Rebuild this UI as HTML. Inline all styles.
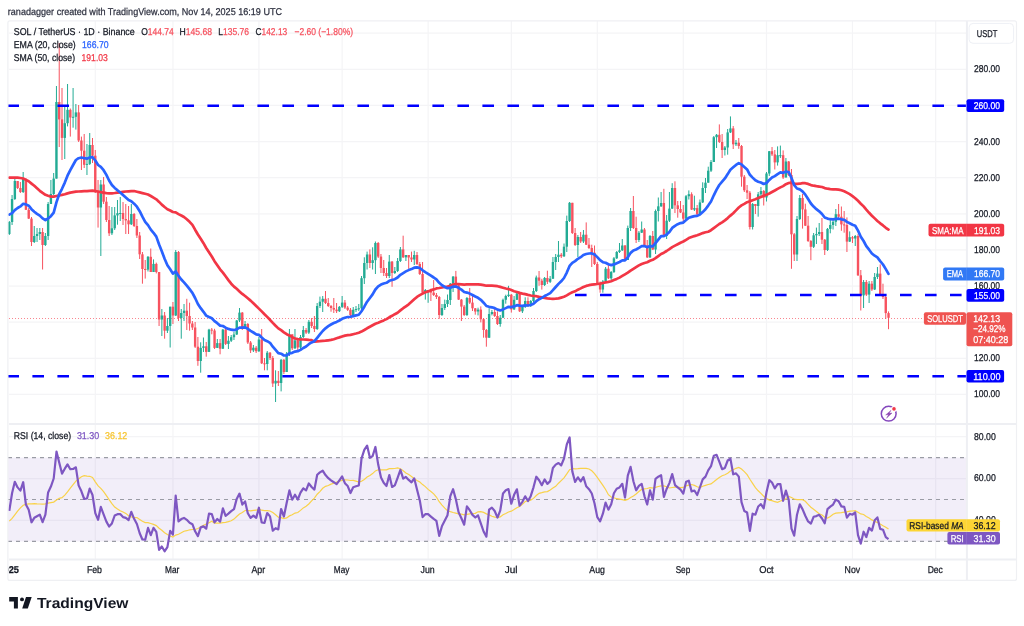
<!DOCTYPE html>
<html><head><meta charset="utf-8">
<style>
html,body{margin:0;padding:0;background:#fff;width:1024px;height:626px;overflow:hidden}
svg{display:block;filter:blur(0.3px)}
text{font-family:"Liberation Sans",sans-serif;text-rendering:geometricPrecision}
</style></head><body>
<svg width="1024" height="626" viewBox="0 0 1024 626">
<defs>
<clipPath id="cpt"><rect x="8.4" y="555" width="100" height="30"/></clipPath>
<clipPath id="cp"><rect x="8" y="21" width="958.5" height="538"/></clipPath>
</defs>
<rect x="0" y="0" width="1024" height="626" fill="#fff"/>
<text x="7.8" y="15" font-size="9.9" fill="#2f3241" textLength="274.2" lengthAdjust="spacingAndGlyphs" stroke="#2f3241" stroke-width="0.25">ranadagger created with TradingView.com, Nov 14, 2025 16:19 UTC</text>
<g clip-path="url(#cp)">
<g stroke="#f4f4f6" stroke-width="1.2">
<line x1="95.28" y1="21" x2="95.28" y2="559"/>
<line x1="172.94" y1="21" x2="172.94" y2="559"/>
<line x1="258.92" y1="21" x2="258.92" y2="559"/>
<line x1="342.13" y1="21" x2="342.13" y2="559"/>
<line x1="428.11" y1="21" x2="428.11" y2="559"/>
<line x1="511.32" y1="21" x2="511.32" y2="559"/>
<line x1="597.30" y1="21" x2="597.30" y2="559"/>
<line x1="683.28" y1="21" x2="683.28" y2="559"/>
<line x1="766.49" y1="21" x2="766.49" y2="559"/>
<line x1="852.47" y1="21" x2="852.47" y2="559"/>
<line x1="935.68" y1="21" x2="935.68" y2="559"/>
<line x1="9" y1="394.40" x2="966" y2="394.40"/>
<line x1="9" y1="358.28" x2="966" y2="358.28"/>
<line x1="9" y1="322.16" x2="966" y2="322.16"/>
<line x1="9" y1="286.04" x2="966" y2="286.04"/>
<line x1="9" y1="249.92" x2="966" y2="249.92"/>
<line x1="9" y1="213.80" x2="966" y2="213.80"/>
<line x1="9" y1="177.68" x2="966" y2="177.68"/>
<line x1="9" y1="141.56" x2="966" y2="141.56"/>
<line x1="9" y1="105.44" x2="966" y2="105.44"/>
<line x1="9" y1="69.32" x2="966" y2="69.32"/>
<line x1="9" y1="33.20" x2="966" y2="33.20"/>
<line x1="9" y1="436.62" x2="966" y2="436.62"/>
<line x1="9" y1="478.54" x2="966" y2="478.54"/>
<line x1="9" y1="520.46" x2="966" y2="520.46"/>
</g>
<rect x="8" y="457.6" width="958" height="83.8" fill="#7e57c2" fill-opacity="0.1"/>
<g stroke="#9a9ca5" stroke-width="1.2" stroke-dasharray="4 4">
<line x1="8" y1="457.58" x2="966" y2="457.58"/>
<line x1="8" y1="499.50" x2="966" y2="499.50"/>
<line x1="8" y1="541.42" x2="966" y2="541.42"/>
</g>
<line x1="9" y1="318.5" x2="966" y2="318.5" stroke="#f7525f" stroke-opacity="0.7" stroke-width="1" stroke-dasharray="1 2"/>
<g>
<line x1="9.30" y1="221.0" x2="9.30" y2="235.0" stroke="#22ab94" stroke-width="1"/>
<rect x="8.10" y="222.0" width="2.4" height="12.0" fill="#22ab94"/>
<line x1="12.07" y1="195.0" x2="12.07" y2="225.0" stroke="#22ab94" stroke-width="1"/>
<rect x="10.87" y="199.0" width="2.4" height="23.0" fill="#22ab94"/>
<line x1="14.85" y1="179.0" x2="14.85" y2="200.0" stroke="#22ab94" stroke-width="1"/>
<rect x="13.65" y="181.0" width="2.4" height="18.0" fill="#22ab94"/>
<line x1="17.62" y1="181.0" x2="17.62" y2="189.0" stroke="#f7525f" stroke-width="1"/>
<rect x="16.42" y="181.0" width="2.4" height="7.0" fill="#f7525f"/>
<line x1="20.39" y1="182.0" x2="20.39" y2="193.0" stroke="#f7525f" stroke-width="1"/>
<rect x="19.19" y="188.0" width="2.4" height="4.0" fill="#f7525f"/>
<line x1="23.17" y1="172.0" x2="23.17" y2="193.0" stroke="#22ab94" stroke-width="1"/>
<rect x="21.97" y="179.0" width="2.4" height="13.0" fill="#22ab94"/>
<line x1="25.94" y1="178.0" x2="25.94" y2="210.0" stroke="#f7525f" stroke-width="1"/>
<rect x="24.74" y="179.0" width="2.4" height="30.8" fill="#f7525f"/>
<line x1="28.72" y1="208.0" x2="28.72" y2="219.0" stroke="#f7525f" stroke-width="1"/>
<rect x="27.52" y="209.8" width="2.4" height="8.8" fill="#f7525f"/>
<line x1="31.49" y1="217.0" x2="31.49" y2="246.0" stroke="#f7525f" stroke-width="1"/>
<rect x="30.29" y="218.6" width="2.4" height="23.4" fill="#f7525f"/>
<line x1="34.26" y1="226.0" x2="34.26" y2="243.0" stroke="#22ab94" stroke-width="1"/>
<rect x="33.06" y="236.0" width="2.4" height="6.0" fill="#22ab94"/>
<line x1="37.04" y1="228.0" x2="37.04" y2="242.0" stroke="#22ab94" stroke-width="1"/>
<rect x="35.84" y="234.0" width="2.4" height="2.0" fill="#22ab94"/>
<line x1="39.81" y1="228.0" x2="39.81" y2="240.0" stroke="#22ab94" stroke-width="1"/>
<rect x="38.61" y="232.0" width="2.4" height="2.0" fill="#22ab94"/>
<line x1="42.58" y1="228.0" x2="42.58" y2="269.5" stroke="#f7525f" stroke-width="1"/>
<rect x="41.38" y="232.0" width="2.4" height="13.0" fill="#f7525f"/>
<line x1="45.36" y1="233.0" x2="45.36" y2="246.0" stroke="#22ab94" stroke-width="1"/>
<rect x="44.16" y="236.0" width="2.4" height="9.0" fill="#22ab94"/>
<line x1="48.13" y1="202.0" x2="48.13" y2="240.0" stroke="#22ab94" stroke-width="1"/>
<rect x="46.93" y="204.0" width="2.4" height="32.0" fill="#22ab94"/>
<line x1="50.90" y1="180.0" x2="50.90" y2="204.0" stroke="#22ab94" stroke-width="1"/>
<rect x="49.70" y="194.0" width="2.4" height="10.0" fill="#22ab94"/>
<line x1="53.68" y1="173.0" x2="53.68" y2="195.0" stroke="#22ab94" stroke-width="1"/>
<rect x="52.48" y="178.6" width="2.4" height="15.4" fill="#22ab94"/>
<line x1="56.45" y1="86.0" x2="56.45" y2="178.6" stroke="#22ab94" stroke-width="1"/>
<rect x="55.25" y="102.0" width="2.4" height="76.6" fill="#22ab94"/>
<line x1="59.22" y1="43.0" x2="59.22" y2="147.0" stroke="#f7525f" stroke-width="1"/>
<rect x="58.02" y="102.0" width="2.4" height="17.4" fill="#f7525f"/>
<line x1="62.00" y1="88.0" x2="62.00" y2="160.0" stroke="#f7525f" stroke-width="1"/>
<rect x="60.80" y="119.4" width="2.4" height="18.5" fill="#f7525f"/>
<line x1="64.77" y1="106.6" x2="64.77" y2="159.0" stroke="#22ab94" stroke-width="1"/>
<rect x="63.57" y="123.2" width="2.4" height="14.7" fill="#22ab94"/>
<line x1="67.55" y1="84.0" x2="67.55" y2="126.4" stroke="#22ab94" stroke-width="1"/>
<rect x="66.35" y="109.8" width="2.4" height="13.4" fill="#22ab94"/>
<line x1="70.32" y1="108.5" x2="70.32" y2="136.6" stroke="#f7525f" stroke-width="1"/>
<rect x="69.12" y="109.8" width="2.4" height="7.7" fill="#f7525f"/>
<line x1="73.09" y1="88.0" x2="73.09" y2="127.7" stroke="#22ab94" stroke-width="1"/>
<rect x="71.89" y="116.8" width="2.4" height="1.0" fill="#22ab94"/>
<line x1="75.87" y1="104.0" x2="75.87" y2="129.6" stroke="#22ab94" stroke-width="1"/>
<rect x="74.67" y="112.4" width="2.4" height="4.4" fill="#22ab94"/>
<line x1="78.64" y1="105.0" x2="78.64" y2="142.0" stroke="#f7525f" stroke-width="1"/>
<rect x="77.44" y="112.4" width="2.4" height="28.1" fill="#f7525f"/>
<line x1="81.41" y1="136.6" x2="81.41" y2="170.0" stroke="#f7525f" stroke-width="1"/>
<rect x="80.21" y="140.5" width="2.4" height="10.2" fill="#f7525f"/>
<line x1="84.19" y1="134.0" x2="84.19" y2="168.0" stroke="#f7525f" stroke-width="1"/>
<rect x="82.99" y="150.7" width="2.4" height="14.1" fill="#f7525f"/>
<line x1="86.96" y1="144.0" x2="86.96" y2="175.0" stroke="#22ab94" stroke-width="1"/>
<rect x="85.76" y="163.9" width="2.4" height="1.0" fill="#22ab94"/>
<line x1="89.73" y1="133.0" x2="89.73" y2="165.0" stroke="#22ab94" stroke-width="1"/>
<rect x="88.53" y="145.0" width="2.4" height="18.9" fill="#22ab94"/>
<line x1="92.51" y1="138.0" x2="92.51" y2="163.0" stroke="#f7525f" stroke-width="1"/>
<rect x="91.31" y="145.0" width="2.4" height="10.7" fill="#f7525f"/>
<line x1="95.28" y1="150.0" x2="95.28" y2="193.0" stroke="#f7525f" stroke-width="1"/>
<rect x="94.08" y="155.7" width="2.4" height="36.0" fill="#f7525f"/>
<line x1="98.06" y1="180.0" x2="98.06" y2="227.6" stroke="#f7525f" stroke-width="1"/>
<rect x="96.86" y="191.7" width="2.4" height="15.8" fill="#f7525f"/>
<line x1="100.83" y1="180.0" x2="100.83" y2="256.0" stroke="#22ab94" stroke-width="1"/>
<rect x="99.63" y="184.5" width="2.4" height="23.0" fill="#22ab94"/>
<line x1="103.60" y1="177.0" x2="103.60" y2="204.0" stroke="#f7525f" stroke-width="1"/>
<rect x="102.40" y="184.5" width="2.4" height="17.2" fill="#f7525f"/>
<line x1="106.38" y1="197.0" x2="106.38" y2="222.0" stroke="#f7525f" stroke-width="1"/>
<rect x="105.18" y="201.7" width="2.4" height="18.3" fill="#f7525f"/>
<line x1="109.15" y1="206.0" x2="109.15" y2="236.0" stroke="#f7525f" stroke-width="1"/>
<rect x="107.95" y="220.0" width="2.4" height="13.3" fill="#f7525f"/>
<line x1="111.92" y1="207.0" x2="111.92" y2="235.0" stroke="#22ab94" stroke-width="1"/>
<rect x="110.72" y="228.3" width="2.4" height="5.0" fill="#22ab94"/>
<line x1="114.70" y1="207.0" x2="114.70" y2="230.0" stroke="#22ab94" stroke-width="1"/>
<rect x="113.50" y="215.4" width="2.4" height="12.9" fill="#22ab94"/>
<line x1="117.47" y1="200.0" x2="117.47" y2="224.7" stroke="#22ab94" stroke-width="1"/>
<rect x="116.27" y="213.2" width="2.4" height="2.2" fill="#22ab94"/>
<line x1="120.24" y1="197.0" x2="120.24" y2="221.0" stroke="#22ab94" stroke-width="1"/>
<rect x="119.04" y="213.0" width="2.4" height="1.0" fill="#22ab94"/>
<line x1="123.02" y1="202.0" x2="123.02" y2="225.0" stroke="#f7525f" stroke-width="1"/>
<rect x="121.82" y="213.0" width="2.4" height="6.0" fill="#f7525f"/>
<line x1="125.79" y1="204.0" x2="125.79" y2="234.0" stroke="#f7525f" stroke-width="1"/>
<rect x="124.59" y="219.0" width="2.4" height="1.4" fill="#f7525f"/>
<line x1="128.56" y1="206.0" x2="128.56" y2="234.0" stroke="#f7525f" stroke-width="1"/>
<rect x="127.36" y="220.4" width="2.4" height="3.9" fill="#f7525f"/>
<line x1="131.34" y1="204.0" x2="131.34" y2="225.0" stroke="#22ab94" stroke-width="1"/>
<rect x="130.14" y="214.0" width="2.4" height="10.3" fill="#22ab94"/>
<line x1="134.11" y1="213.0" x2="134.11" y2="227.0" stroke="#f7525f" stroke-width="1"/>
<rect x="132.91" y="214.0" width="2.4" height="12.0" fill="#f7525f"/>
<line x1="136.89" y1="219.0" x2="136.89" y2="238.0" stroke="#f7525f" stroke-width="1"/>
<rect x="135.69" y="226.0" width="2.4" height="9.5" fill="#f7525f"/>
<line x1="139.66" y1="232.0" x2="139.66" y2="259.0" stroke="#f7525f" stroke-width="1"/>
<rect x="138.46" y="235.5" width="2.4" height="18.8" fill="#f7525f"/>
<line x1="142.43" y1="252.0" x2="142.43" y2="283.7" stroke="#f7525f" stroke-width="1"/>
<rect x="141.23" y="254.3" width="2.4" height="14.7" fill="#f7525f"/>
<line x1="145.21" y1="260.0" x2="145.21" y2="278.6" stroke="#f7525f" stroke-width="1"/>
<rect x="144.01" y="269.0" width="2.4" height="1.0" fill="#f7525f"/>
<line x1="147.98" y1="256.0" x2="147.98" y2="271.5" stroke="#22ab94" stroke-width="1"/>
<rect x="146.78" y="256.8" width="2.4" height="12.8" fill="#22ab94"/>
<line x1="150.75" y1="248.5" x2="150.75" y2="272.0" stroke="#f7525f" stroke-width="1"/>
<rect x="149.55" y="256.8" width="2.4" height="15.2" fill="#f7525f"/>
<line x1="153.53" y1="259.4" x2="153.53" y2="272.0" stroke="#22ab94" stroke-width="1"/>
<rect x="152.33" y="263.9" width="2.4" height="8.1" fill="#22ab94"/>
<line x1="156.30" y1="262.6" x2="156.30" y2="273.4" stroke="#f7525f" stroke-width="1"/>
<rect x="155.10" y="263.9" width="2.4" height="8.1" fill="#f7525f"/>
<line x1="159.07" y1="272.0" x2="159.07" y2="326.0" stroke="#f7525f" stroke-width="1"/>
<rect x="157.87" y="272.0" width="2.4" height="47.5" fill="#f7525f"/>
<line x1="161.85" y1="309.0" x2="161.85" y2="336.0" stroke="#22ab94" stroke-width="1"/>
<rect x="160.65" y="315.5" width="2.4" height="4.0" fill="#22ab94"/>
<line x1="164.62" y1="312.0" x2="164.62" y2="338.7" stroke="#f7525f" stroke-width="1"/>
<rect x="163.42" y="315.5" width="2.4" height="15.2" fill="#f7525f"/>
<line x1="167.40" y1="318.0" x2="167.40" y2="333.0" stroke="#22ab94" stroke-width="1"/>
<rect x="166.20" y="326.0" width="2.4" height="4.7" fill="#22ab94"/>
<line x1="170.17" y1="306.7" x2="170.17" y2="347.5" stroke="#22ab94" stroke-width="1"/>
<rect x="168.97" y="306.7" width="2.4" height="19.3" fill="#22ab94"/>
<line x1="172.94" y1="302.0" x2="172.94" y2="324.0" stroke="#f7525f" stroke-width="1"/>
<rect x="171.74" y="306.7" width="2.4" height="8.8" fill="#f7525f"/>
<line x1="175.72" y1="250.0" x2="175.72" y2="316.0" stroke="#22ab94" stroke-width="1"/>
<rect x="174.52" y="252.0" width="2.4" height="63.5" fill="#22ab94"/>
<line x1="178.49" y1="251.0" x2="178.49" y2="321.0" stroke="#f7525f" stroke-width="1"/>
<rect x="177.29" y="252.0" width="2.4" height="66.0" fill="#f7525f"/>
<line x1="181.26" y1="309.0" x2="181.26" y2="338.7" stroke="#22ab94" stroke-width="1"/>
<rect x="180.06" y="313.0" width="2.4" height="5.0" fill="#22ab94"/>
<line x1="184.04" y1="304.0" x2="184.04" y2="321.0" stroke="#22ab94" stroke-width="1"/>
<rect x="182.84" y="310.7" width="2.4" height="2.3" fill="#22ab94"/>
<line x1="186.81" y1="298.8" x2="186.81" y2="330.0" stroke="#f7525f" stroke-width="1"/>
<rect x="185.61" y="310.7" width="2.4" height="5.3" fill="#f7525f"/>
<line x1="189.58" y1="302.7" x2="189.58" y2="330.7" stroke="#f7525f" stroke-width="1"/>
<rect x="188.38" y="316.0" width="2.4" height="7.5" fill="#f7525f"/>
<line x1="192.36" y1="321.0" x2="192.36" y2="330.0" stroke="#f7525f" stroke-width="1"/>
<rect x="191.16" y="323.5" width="2.4" height="4.0" fill="#f7525f"/>
<line x1="195.13" y1="322.0" x2="195.13" y2="348.0" stroke="#f7525f" stroke-width="1"/>
<rect x="193.93" y="327.5" width="2.4" height="19.2" fill="#f7525f"/>
<line x1="197.90" y1="337.0" x2="197.90" y2="365.8" stroke="#f7525f" stroke-width="1"/>
<rect x="196.70" y="346.7" width="2.4" height="14.3" fill="#f7525f"/>
<line x1="200.68" y1="342.3" x2="200.68" y2="372.7" stroke="#22ab94" stroke-width="1"/>
<rect x="199.48" y="347.9" width="2.4" height="13.1" fill="#22ab94"/>
<line x1="203.45" y1="337.5" x2="203.45" y2="352.0" stroke="#22ab94" stroke-width="1"/>
<rect x="202.25" y="346.3" width="2.4" height="1.6" fill="#22ab94"/>
<line x1="206.23" y1="342.0" x2="206.23" y2="356.7" stroke="#f7525f" stroke-width="1"/>
<rect x="205.03" y="346.3" width="2.4" height="5.6" fill="#f7525f"/>
<line x1="209.00" y1="328.8" x2="209.00" y2="352.0" stroke="#22ab94" stroke-width="1"/>
<rect x="207.80" y="329.6" width="2.4" height="22.3" fill="#22ab94"/>
<line x1="211.77" y1="328.0" x2="211.77" y2="334.3" stroke="#f7525f" stroke-width="1"/>
<rect x="210.57" y="329.6" width="2.4" height="1.0" fill="#f7525f"/>
<line x1="214.55" y1="328.8" x2="214.55" y2="349.0" stroke="#f7525f" stroke-width="1"/>
<rect x="213.35" y="330.5" width="2.4" height="17.4" fill="#f7525f"/>
<line x1="217.32" y1="339.0" x2="217.32" y2="348.0" stroke="#22ab94" stroke-width="1"/>
<rect x="216.12" y="343.1" width="2.4" height="4.8" fill="#22ab94"/>
<line x1="220.09" y1="339.0" x2="220.09" y2="354.3" stroke="#f7525f" stroke-width="1"/>
<rect x="218.89" y="343.1" width="2.4" height="5.6" fill="#f7525f"/>
<line x1="222.87" y1="329.0" x2="222.87" y2="349.0" stroke="#22ab94" stroke-width="1"/>
<rect x="221.67" y="329.6" width="2.4" height="19.1" fill="#22ab94"/>
<line x1="225.64" y1="329.0" x2="225.64" y2="345.0" stroke="#f7525f" stroke-width="1"/>
<rect x="224.44" y="329.6" width="2.4" height="14.3" fill="#f7525f"/>
<line x1="228.41" y1="336.0" x2="228.41" y2="349.0" stroke="#22ab94" stroke-width="1"/>
<rect x="227.21" y="340.7" width="2.4" height="3.2" fill="#22ab94"/>
<line x1="231.19" y1="335.0" x2="231.19" y2="342.0" stroke="#22ab94" stroke-width="1"/>
<rect x="229.99" y="337.2" width="2.4" height="3.5" fill="#22ab94"/>
<line x1="233.96" y1="332.0" x2="233.96" y2="340.0" stroke="#22ab94" stroke-width="1"/>
<rect x="232.76" y="334.5" width="2.4" height="2.7" fill="#22ab94"/>
<line x1="236.74" y1="320.0" x2="236.74" y2="335.0" stroke="#22ab94" stroke-width="1"/>
<rect x="235.54" y="320.5" width="2.4" height="14.0" fill="#22ab94"/>
<line x1="239.51" y1="308.0" x2="239.51" y2="322.0" stroke="#22ab94" stroke-width="1"/>
<rect x="238.31" y="312.6" width="2.4" height="7.9" fill="#22ab94"/>
<line x1="242.28" y1="312.0" x2="242.28" y2="330.0" stroke="#f7525f" stroke-width="1"/>
<rect x="241.08" y="312.6" width="2.4" height="15.8" fill="#f7525f"/>
<line x1="245.06" y1="321.0" x2="245.06" y2="329.0" stroke="#22ab94" stroke-width="1"/>
<rect x="243.86" y="324.0" width="2.4" height="4.4" fill="#22ab94"/>
<line x1="247.83" y1="323.0" x2="247.83" y2="344.0" stroke="#f7525f" stroke-width="1"/>
<rect x="246.63" y="324.0" width="2.4" height="18.5" fill="#f7525f"/>
<line x1="250.60" y1="341.0" x2="250.60" y2="353.0" stroke="#f7525f" stroke-width="1"/>
<rect x="249.40" y="342.5" width="2.4" height="7.9" fill="#f7525f"/>
<line x1="253.38" y1="345.0" x2="253.38" y2="352.0" stroke="#22ab94" stroke-width="1"/>
<rect x="252.18" y="347.7" width="2.4" height="2.7" fill="#22ab94"/>
<line x1="256.15" y1="346.0" x2="256.15" y2="353.0" stroke="#f7525f" stroke-width="1"/>
<rect x="254.95" y="347.7" width="2.4" height="3.5" fill="#f7525f"/>
<line x1="258.92" y1="337.0" x2="258.92" y2="352.0" stroke="#22ab94" stroke-width="1"/>
<rect x="257.72" y="339.5" width="2.4" height="11.7" fill="#22ab94"/>
<line x1="261.70" y1="329.0" x2="261.70" y2="364.0" stroke="#f7525f" stroke-width="1"/>
<rect x="260.50" y="339.5" width="2.4" height="23.8" fill="#f7525f"/>
<line x1="264.47" y1="358.0" x2="264.47" y2="370.3" stroke="#f7525f" stroke-width="1"/>
<rect x="263.27" y="363.3" width="2.4" height="1.0" fill="#f7525f"/>
<line x1="267.24" y1="351.0" x2="267.24" y2="370.3" stroke="#22ab94" stroke-width="1"/>
<rect x="266.04" y="352.7" width="2.4" height="11.3" fill="#22ab94"/>
<line x1="270.02" y1="352.0" x2="270.02" y2="360.0" stroke="#f7525f" stroke-width="1"/>
<rect x="268.82" y="352.7" width="2.4" height="5.3" fill="#f7525f"/>
<line x1="272.79" y1="356.0" x2="272.79" y2="387.0" stroke="#f7525f" stroke-width="1"/>
<rect x="271.59" y="358.0" width="2.4" height="25.5" fill="#f7525f"/>
<line x1="275.57" y1="370.3" x2="275.57" y2="402.0" stroke="#22ab94" stroke-width="1"/>
<rect x="274.37" y="380.8" width="2.4" height="2.7" fill="#22ab94"/>
<line x1="278.34" y1="371.0" x2="278.34" y2="386.0" stroke="#f7525f" stroke-width="1"/>
<rect x="277.14" y="380.8" width="2.4" height="2.2" fill="#f7525f"/>
<line x1="281.11" y1="359.0" x2="281.11" y2="391.4" stroke="#22ab94" stroke-width="1"/>
<rect x="279.91" y="359.8" width="2.4" height="23.2" fill="#22ab94"/>
<line x1="283.89" y1="359.0" x2="283.89" y2="374.0" stroke="#f7525f" stroke-width="1"/>
<rect x="282.69" y="359.8" width="2.4" height="12.2" fill="#f7525f"/>
<line x1="286.66" y1="352.0" x2="286.66" y2="372.0" stroke="#22ab94" stroke-width="1"/>
<rect x="285.46" y="353.6" width="2.4" height="18.4" fill="#22ab94"/>
<line x1="289.43" y1="329.0" x2="289.43" y2="356.0" stroke="#22ab94" stroke-width="1"/>
<rect x="288.23" y="334.3" width="2.4" height="19.3" fill="#22ab94"/>
<line x1="292.21" y1="334.3" x2="292.21" y2="350.0" stroke="#f7525f" stroke-width="1"/>
<rect x="291.01" y="334.3" width="2.4" height="14.0" fill="#f7525f"/>
<line x1="294.98" y1="329.0" x2="294.98" y2="349.0" stroke="#22ab94" stroke-width="1"/>
<rect x="293.78" y="340.4" width="2.4" height="7.9" fill="#22ab94"/>
<line x1="297.75" y1="339.0" x2="297.75" y2="350.0" stroke="#f7525f" stroke-width="1"/>
<rect x="296.55" y="340.4" width="2.4" height="7.1" fill="#f7525f"/>
<line x1="300.53" y1="335.0" x2="300.53" y2="351.0" stroke="#22ab94" stroke-width="1"/>
<rect x="299.33" y="337.0" width="2.4" height="10.5" fill="#22ab94"/>
<line x1="303.30" y1="326.0" x2="303.30" y2="338.0" stroke="#22ab94" stroke-width="1"/>
<rect x="302.10" y="330.0" width="2.4" height="7.0" fill="#22ab94"/>
<line x1="306.08" y1="328.0" x2="306.08" y2="334.0" stroke="#f7525f" stroke-width="1"/>
<rect x="304.88" y="330.0" width="2.4" height="2.6" fill="#f7525f"/>
<line x1="308.85" y1="320.0" x2="308.85" y2="334.0" stroke="#22ab94" stroke-width="1"/>
<rect x="307.65" y="321.8" width="2.4" height="10.8" fill="#22ab94"/>
<line x1="311.62" y1="318.0" x2="311.62" y2="328.0" stroke="#f7525f" stroke-width="1"/>
<rect x="310.42" y="321.8" width="2.4" height="4.2" fill="#f7525f"/>
<line x1="314.40" y1="316.0" x2="314.40" y2="332.0" stroke="#f7525f" stroke-width="1"/>
<rect x="313.20" y="326.0" width="2.4" height="3.0" fill="#f7525f"/>
<line x1="317.17" y1="303.0" x2="317.17" y2="330.0" stroke="#22ab94" stroke-width="1"/>
<rect x="315.97" y="306.0" width="2.4" height="23.0" fill="#22ab94"/>
<line x1="319.94" y1="296.6" x2="319.94" y2="308.0" stroke="#22ab94" stroke-width="1"/>
<rect x="318.74" y="301.7" width="2.4" height="4.3" fill="#22ab94"/>
<line x1="322.72" y1="296.0" x2="322.72" y2="312.0" stroke="#22ab94" stroke-width="1"/>
<rect x="321.52" y="298.8" width="2.4" height="2.9" fill="#22ab94"/>
<line x1="325.49" y1="291.0" x2="325.49" y2="304.0" stroke="#f7525f" stroke-width="1"/>
<rect x="324.29" y="298.8" width="2.4" height="4.2" fill="#f7525f"/>
<line x1="328.26" y1="298.0" x2="328.26" y2="307.0" stroke="#f7525f" stroke-width="1"/>
<rect x="327.06" y="303.0" width="2.4" height="3.0" fill="#f7525f"/>
<line x1="331.04" y1="305.0" x2="331.04" y2="311.7" stroke="#f7525f" stroke-width="1"/>
<rect x="329.84" y="306.0" width="2.4" height="2.0" fill="#f7525f"/>
<line x1="333.81" y1="298.0" x2="333.81" y2="313.0" stroke="#f7525f" stroke-width="1"/>
<rect x="332.61" y="308.0" width="2.4" height="1.6" fill="#f7525f"/>
<line x1="336.58" y1="303.0" x2="336.58" y2="313.0" stroke="#f7525f" stroke-width="1"/>
<rect x="335.38" y="309.6" width="2.4" height="1.6" fill="#f7525f"/>
<line x1="339.36" y1="306.0" x2="339.36" y2="312.0" stroke="#22ab94" stroke-width="1"/>
<rect x="338.16" y="306.9" width="2.4" height="4.3" fill="#22ab94"/>
<line x1="342.13" y1="296.0" x2="342.13" y2="308.0" stroke="#22ab94" stroke-width="1"/>
<rect x="340.93" y="302.6" width="2.4" height="4.3" fill="#22ab94"/>
<line x1="344.91" y1="300.0" x2="344.91" y2="309.0" stroke="#f7525f" stroke-width="1"/>
<rect x="343.71" y="302.6" width="2.4" height="5.0" fill="#f7525f"/>
<line x1="347.68" y1="306.0" x2="347.68" y2="311.0" stroke="#f7525f" stroke-width="1"/>
<rect x="346.48" y="307.6" width="2.4" height="2.2" fill="#f7525f"/>
<line x1="350.45" y1="308.0" x2="350.45" y2="316.0" stroke="#f7525f" stroke-width="1"/>
<rect x="349.25" y="309.8" width="2.4" height="5.2" fill="#f7525f"/>
<line x1="353.23" y1="307.0" x2="353.23" y2="316.0" stroke="#22ab94" stroke-width="1"/>
<rect x="352.03" y="309.8" width="2.4" height="5.2" fill="#22ab94"/>
<line x1="356.00" y1="306.0" x2="356.00" y2="312.0" stroke="#22ab94" stroke-width="1"/>
<rect x="354.80" y="309.0" width="2.4" height="1.0" fill="#22ab94"/>
<line x1="358.77" y1="304.0" x2="358.77" y2="311.0" stroke="#22ab94" stroke-width="1"/>
<rect x="357.57" y="308.3" width="2.4" height="1.0" fill="#22ab94"/>
<line x1="361.55" y1="276.0" x2="361.55" y2="310.0" stroke="#22ab94" stroke-width="1"/>
<rect x="360.35" y="278.2" width="2.4" height="30.1" fill="#22ab94"/>
<line x1="364.32" y1="257.3" x2="364.32" y2="284.0" stroke="#22ab94" stroke-width="1"/>
<rect x="363.12" y="263.0" width="2.4" height="15.2" fill="#22ab94"/>
<line x1="367.09" y1="251.6" x2="367.09" y2="269.5" stroke="#22ab94" stroke-width="1"/>
<rect x="365.89" y="254.5" width="2.4" height="8.5" fill="#22ab94"/>
<line x1="369.87" y1="249.4" x2="369.87" y2="268.0" stroke="#f7525f" stroke-width="1"/>
<rect x="368.67" y="254.5" width="2.4" height="8.5" fill="#f7525f"/>
<line x1="372.64" y1="247.3" x2="372.64" y2="269.5" stroke="#22ab94" stroke-width="1"/>
<rect x="371.44" y="260.2" width="2.4" height="2.8" fill="#22ab94"/>
<line x1="375.42" y1="241.5" x2="375.42" y2="274.0" stroke="#22ab94" stroke-width="1"/>
<rect x="374.22" y="243.0" width="2.4" height="17.2" fill="#22ab94"/>
<line x1="378.19" y1="242.0" x2="378.19" y2="258.0" stroke="#f7525f" stroke-width="1"/>
<rect x="376.99" y="243.0" width="2.4" height="13.6" fill="#f7525f"/>
<line x1="380.96" y1="254.0" x2="380.96" y2="273.0" stroke="#f7525f" stroke-width="1"/>
<rect x="379.76" y="256.6" width="2.4" height="11.4" fill="#f7525f"/>
<line x1="383.74" y1="260.0" x2="383.74" y2="276.0" stroke="#f7525f" stroke-width="1"/>
<rect x="382.54" y="268.0" width="2.4" height="5.0" fill="#f7525f"/>
<line x1="386.51" y1="268.0" x2="386.51" y2="278.0" stroke="#f7525f" stroke-width="1"/>
<rect x="385.31" y="273.0" width="2.4" height="3.0" fill="#f7525f"/>
<line x1="389.28" y1="255.0" x2="389.28" y2="278.0" stroke="#22ab94" stroke-width="1"/>
<rect x="388.08" y="261.6" width="2.4" height="14.4" fill="#22ab94"/>
<line x1="392.06" y1="261.0" x2="392.06" y2="286.8" stroke="#f7525f" stroke-width="1"/>
<rect x="390.86" y="261.6" width="2.4" height="11.4" fill="#f7525f"/>
<line x1="394.83" y1="267.0" x2="394.83" y2="274.0" stroke="#22ab94" stroke-width="1"/>
<rect x="393.63" y="271.0" width="2.4" height="2.0" fill="#22ab94"/>
<line x1="397.60" y1="258.0" x2="397.60" y2="272.0" stroke="#22ab94" stroke-width="1"/>
<rect x="396.40" y="261.0" width="2.4" height="10.0" fill="#22ab94"/>
<line x1="400.38" y1="247.0" x2="400.38" y2="262.0" stroke="#22ab94" stroke-width="1"/>
<rect x="399.18" y="249.4" width="2.4" height="11.6" fill="#22ab94"/>
<line x1="403.15" y1="235.7" x2="403.15" y2="258.0" stroke="#f7525f" stroke-width="1"/>
<rect x="401.95" y="249.4" width="2.4" height="7.9" fill="#f7525f"/>
<line x1="405.92" y1="255.0" x2="405.92" y2="261.0" stroke="#22ab94" stroke-width="1"/>
<rect x="404.72" y="255.0" width="2.4" height="2.3" fill="#22ab94"/>
<line x1="408.70" y1="255.0" x2="408.70" y2="268.8" stroke="#f7525f" stroke-width="1"/>
<rect x="407.50" y="255.0" width="2.4" height="2.5" fill="#f7525f"/>
<line x1="411.47" y1="251.6" x2="411.47" y2="262.0" stroke="#f7525f" stroke-width="1"/>
<rect x="410.27" y="257.5" width="2.4" height="2.0" fill="#f7525f"/>
<line x1="414.25" y1="250.8" x2="414.25" y2="265.0" stroke="#22ab94" stroke-width="1"/>
<rect x="413.05" y="255.0" width="2.4" height="4.5" fill="#22ab94"/>
<line x1="417.02" y1="252.0" x2="417.02" y2="265.0" stroke="#f7525f" stroke-width="1"/>
<rect x="415.82" y="255.0" width="2.4" height="9.0" fill="#f7525f"/>
<line x1="419.79" y1="262.0" x2="419.79" y2="275.0" stroke="#f7525f" stroke-width="1"/>
<rect x="418.59" y="264.0" width="2.4" height="10.0" fill="#f7525f"/>
<line x1="422.57" y1="262.0" x2="422.57" y2="294.0" stroke="#f7525f" stroke-width="1"/>
<rect x="421.37" y="274.0" width="2.4" height="18.6" fill="#f7525f"/>
<line x1="425.34" y1="289.0" x2="425.34" y2="299.6" stroke="#22ab94" stroke-width="1"/>
<rect x="424.14" y="290.0" width="2.4" height="2.6" fill="#22ab94"/>
<line x1="428.11" y1="290.0" x2="428.11" y2="302.8" stroke="#22ab94" stroke-width="1"/>
<rect x="426.91" y="290.0" width="2.4" height="1.0" fill="#22ab94"/>
<line x1="430.89" y1="288.7" x2="430.89" y2="301.0" stroke="#f7525f" stroke-width="1"/>
<rect x="429.69" y="290.0" width="2.4" height="2.6" fill="#f7525f"/>
<line x1="433.66" y1="280.0" x2="433.66" y2="296.0" stroke="#f7525f" stroke-width="1"/>
<rect x="432.46" y="292.6" width="2.4" height="2.4" fill="#f7525f"/>
<line x1="436.43" y1="293.0" x2="436.43" y2="299.0" stroke="#f7525f" stroke-width="1"/>
<rect x="435.23" y="295.0" width="2.4" height="2.0" fill="#f7525f"/>
<line x1="439.21" y1="296.0" x2="439.21" y2="318.8" stroke="#f7525f" stroke-width="1"/>
<rect x="438.01" y="297.0" width="2.4" height="18.0" fill="#f7525f"/>
<line x1="441.98" y1="304.0" x2="441.98" y2="316.0" stroke="#22ab94" stroke-width="1"/>
<rect x="440.78" y="308.0" width="2.4" height="7.0" fill="#22ab94"/>
<line x1="444.76" y1="299.6" x2="444.76" y2="310.0" stroke="#22ab94" stroke-width="1"/>
<rect x="443.56" y="304.0" width="2.4" height="4.0" fill="#22ab94"/>
<line x1="447.53" y1="294.5" x2="447.53" y2="307.0" stroke="#22ab94" stroke-width="1"/>
<rect x="446.33" y="300.0" width="2.4" height="4.0" fill="#22ab94"/>
<line x1="450.30" y1="283.0" x2="450.30" y2="305.0" stroke="#22ab94" stroke-width="1"/>
<rect x="449.10" y="283.6" width="2.4" height="16.4" fill="#22ab94"/>
<line x1="453.08" y1="276.0" x2="453.08" y2="292.0" stroke="#22ab94" stroke-width="1"/>
<rect x="451.88" y="276.6" width="2.4" height="7.0" fill="#22ab94"/>
<line x1="455.85" y1="270.9" x2="455.85" y2="287.0" stroke="#f7525f" stroke-width="1"/>
<rect x="454.65" y="276.6" width="2.4" height="9.0" fill="#f7525f"/>
<line x1="458.62" y1="283.0" x2="458.62" y2="300.0" stroke="#f7525f" stroke-width="1"/>
<rect x="457.42" y="285.6" width="2.4" height="14.0" fill="#f7525f"/>
<line x1="461.40" y1="299.0" x2="461.40" y2="321.0" stroke="#f7525f" stroke-width="1"/>
<rect x="460.20" y="299.6" width="2.4" height="7.0" fill="#f7525f"/>
<line x1="464.17" y1="305.0" x2="464.17" y2="316.0" stroke="#f7525f" stroke-width="1"/>
<rect x="462.97" y="306.6" width="2.4" height="8.4" fill="#f7525f"/>
<line x1="466.94" y1="297.0" x2="466.94" y2="316.0" stroke="#22ab94" stroke-width="1"/>
<rect x="465.74" y="298.0" width="2.4" height="17.0" fill="#22ab94"/>
<line x1="469.72" y1="288.0" x2="469.72" y2="304.0" stroke="#f7525f" stroke-width="1"/>
<rect x="468.52" y="298.0" width="2.4" height="4.6" fill="#f7525f"/>
<line x1="472.49" y1="295.0" x2="472.49" y2="311.0" stroke="#f7525f" stroke-width="1"/>
<rect x="471.29" y="302.6" width="2.4" height="5.7" fill="#f7525f"/>
<line x1="475.26" y1="308.0" x2="475.26" y2="314.7" stroke="#f7525f" stroke-width="1"/>
<rect x="474.06" y="308.3" width="2.4" height="3.2" fill="#f7525f"/>
<line x1="478.04" y1="307.7" x2="478.04" y2="315.4" stroke="#22ab94" stroke-width="1"/>
<rect x="476.84" y="309.6" width="2.4" height="1.9" fill="#22ab94"/>
<line x1="480.81" y1="306.4" x2="480.81" y2="322.4" stroke="#f7525f" stroke-width="1"/>
<rect x="479.61" y="309.6" width="2.4" height="9.6" fill="#f7525f"/>
<line x1="483.59" y1="318.0" x2="483.59" y2="337.7" stroke="#f7525f" stroke-width="1"/>
<rect x="482.39" y="319.2" width="2.4" height="10.8" fill="#f7525f"/>
<line x1="486.36" y1="329.0" x2="486.36" y2="346.7" stroke="#f7525f" stroke-width="1"/>
<rect x="485.16" y="330.0" width="2.4" height="7.7" fill="#f7525f"/>
<line x1="489.13" y1="308.3" x2="489.13" y2="338.0" stroke="#22ab94" stroke-width="1"/>
<rect x="487.93" y="314.0" width="2.4" height="23.7" fill="#22ab94"/>
<line x1="491.91" y1="310.0" x2="491.91" y2="315.4" stroke="#22ab94" stroke-width="1"/>
<rect x="490.71" y="312.0" width="2.4" height="2.0" fill="#22ab94"/>
<line x1="494.68" y1="307.7" x2="494.68" y2="317.0" stroke="#f7525f" stroke-width="1"/>
<rect x="493.48" y="312.0" width="2.4" height="4.0" fill="#f7525f"/>
<line x1="497.45" y1="311.3" x2="497.45" y2="325.0" stroke="#f7525f" stroke-width="1"/>
<rect x="496.25" y="316.0" width="2.4" height="8.0" fill="#f7525f"/>
<line x1="500.23" y1="315.0" x2="500.23" y2="326.7" stroke="#22ab94" stroke-width="1"/>
<rect x="499.03" y="317.7" width="2.4" height="6.3" fill="#22ab94"/>
<line x1="503.00" y1="298.6" x2="503.00" y2="318.0" stroke="#22ab94" stroke-width="1"/>
<rect x="501.80" y="299.8" width="2.4" height="17.9" fill="#22ab94"/>
<line x1="505.77" y1="294.7" x2="505.77" y2="303.7" stroke="#22ab94" stroke-width="1"/>
<rect x="504.57" y="296.0" width="2.4" height="3.8" fill="#22ab94"/>
<line x1="508.55" y1="285.8" x2="508.55" y2="297.0" stroke="#22ab94" stroke-width="1"/>
<rect x="507.35" y="294.7" width="2.4" height="1.3" fill="#22ab94"/>
<line x1="511.32" y1="294.0" x2="511.32" y2="312.6" stroke="#f7525f" stroke-width="1"/>
<rect x="510.12" y="294.7" width="2.4" height="14.7" fill="#f7525f"/>
<line x1="514.10" y1="296.0" x2="514.10" y2="310.0" stroke="#22ab94" stroke-width="1"/>
<rect x="512.90" y="299.8" width="2.4" height="9.6" fill="#22ab94"/>
<line x1="516.87" y1="292.0" x2="516.87" y2="300.0" stroke="#22ab94" stroke-width="1"/>
<rect x="515.67" y="293.5" width="2.4" height="6.3" fill="#22ab94"/>
<line x1="519.64" y1="293.5" x2="519.64" y2="312.0" stroke="#f7525f" stroke-width="1"/>
<rect x="518.44" y="293.5" width="2.4" height="17.8" fill="#f7525f"/>
<line x1="522.42" y1="306.0" x2="522.42" y2="313.0" stroke="#22ab94" stroke-width="1"/>
<rect x="521.22" y="307.0" width="2.4" height="4.3" fill="#22ab94"/>
<line x1="525.19" y1="297.3" x2="525.19" y2="308.0" stroke="#22ab94" stroke-width="1"/>
<rect x="523.99" y="301.0" width="2.4" height="6.0" fill="#22ab94"/>
<line x1="527.96" y1="297.3" x2="527.96" y2="307.0" stroke="#f7525f" stroke-width="1"/>
<rect x="526.76" y="301.0" width="2.4" height="5.0" fill="#f7525f"/>
<line x1="530.74" y1="300.0" x2="530.74" y2="307.0" stroke="#22ab94" stroke-width="1"/>
<rect x="529.54" y="301.0" width="2.4" height="5.0" fill="#22ab94"/>
<line x1="533.51" y1="288.0" x2="533.51" y2="302.0" stroke="#22ab94" stroke-width="1"/>
<rect x="532.31" y="291.0" width="2.4" height="10.0" fill="#22ab94"/>
<line x1="536.28" y1="275.6" x2="536.28" y2="292.0" stroke="#22ab94" stroke-width="1"/>
<rect x="535.08" y="277.5" width="2.4" height="13.5" fill="#22ab94"/>
<line x1="539.06" y1="271.0" x2="539.06" y2="285.8" stroke="#f7525f" stroke-width="1"/>
<rect x="537.86" y="277.5" width="2.4" height="3.2" fill="#f7525f"/>
<line x1="541.83" y1="278.8" x2="541.83" y2="289.6" stroke="#f7525f" stroke-width="1"/>
<rect x="540.63" y="280.7" width="2.4" height="4.3" fill="#f7525f"/>
<line x1="544.60" y1="277.0" x2="544.60" y2="286.0" stroke="#22ab94" stroke-width="1"/>
<rect x="543.40" y="278.0" width="2.4" height="7.0" fill="#22ab94"/>
<line x1="547.38" y1="270.7" x2="547.38" y2="284.0" stroke="#f7525f" stroke-width="1"/>
<rect x="546.18" y="278.0" width="2.4" height="3.8" fill="#f7525f"/>
<line x1="550.15" y1="276.0" x2="550.15" y2="283.0" stroke="#22ab94" stroke-width="1"/>
<rect x="548.95" y="278.7" width="2.4" height="3.1" fill="#22ab94"/>
<line x1="552.93" y1="257.0" x2="552.93" y2="279.0" stroke="#22ab94" stroke-width="1"/>
<rect x="551.73" y="262.0" width="2.4" height="16.7" fill="#22ab94"/>
<line x1="555.70" y1="254.0" x2="555.70" y2="270.0" stroke="#22ab94" stroke-width="1"/>
<rect x="554.50" y="257.0" width="2.4" height="5.0" fill="#22ab94"/>
<line x1="558.47" y1="241.0" x2="558.47" y2="262.0" stroke="#22ab94" stroke-width="1"/>
<rect x="557.27" y="254.7" width="2.4" height="2.3" fill="#22ab94"/>
<line x1="561.25" y1="253.0" x2="561.25" y2="258.0" stroke="#f7525f" stroke-width="1"/>
<rect x="560.05" y="254.7" width="2.4" height="1.6" fill="#f7525f"/>
<line x1="564.02" y1="243.5" x2="564.02" y2="257.0" stroke="#22ab94" stroke-width="1"/>
<rect x="562.82" y="246.7" width="2.4" height="9.6" fill="#22ab94"/>
<line x1="566.79" y1="215.6" x2="566.79" y2="252.0" stroke="#22ab94" stroke-width="1"/>
<rect x="565.59" y="221.0" width="2.4" height="25.7" fill="#22ab94"/>
<line x1="569.57" y1="202.0" x2="569.57" y2="222.0" stroke="#22ab94" stroke-width="1"/>
<rect x="568.37" y="202.8" width="2.4" height="18.2" fill="#22ab94"/>
<line x1="572.34" y1="202.8" x2="572.34" y2="234.0" stroke="#f7525f" stroke-width="1"/>
<rect x="571.14" y="202.8" width="2.4" height="30.2" fill="#f7525f"/>
<line x1="575.11" y1="228.0" x2="575.11" y2="246.0" stroke="#f7525f" stroke-width="1"/>
<rect x="573.91" y="233.0" width="2.4" height="12.0" fill="#f7525f"/>
<line x1="577.89" y1="235.0" x2="577.89" y2="257.0" stroke="#22ab94" stroke-width="1"/>
<rect x="576.69" y="237.0" width="2.4" height="8.0" fill="#22ab94"/>
<line x1="580.66" y1="232.0" x2="580.66" y2="243.0" stroke="#f7525f" stroke-width="1"/>
<rect x="579.46" y="237.0" width="2.4" height="4.5" fill="#f7525f"/>
<line x1="583.44" y1="230.0" x2="583.44" y2="243.0" stroke="#22ab94" stroke-width="1"/>
<rect x="582.24" y="234.7" width="2.4" height="6.8" fill="#22ab94"/>
<line x1="586.21" y1="222.4" x2="586.21" y2="245.0" stroke="#f7525f" stroke-width="1"/>
<rect x="585.01" y="234.7" width="2.4" height="10.0" fill="#f7525f"/>
<line x1="588.98" y1="238.0" x2="588.98" y2="249.0" stroke="#f7525f" stroke-width="1"/>
<rect x="587.78" y="244.7" width="2.4" height="3.3" fill="#f7525f"/>
<line x1="591.76" y1="244.7" x2="591.76" y2="267.0" stroke="#f7525f" stroke-width="1"/>
<rect x="590.56" y="248.0" width="2.4" height="4.7" fill="#f7525f"/>
<line x1="594.53" y1="245.5" x2="594.53" y2="265.0" stroke="#f7525f" stroke-width="1"/>
<rect x="593.33" y="252.7" width="2.4" height="11.3" fill="#f7525f"/>
<line x1="597.30" y1="262.0" x2="597.30" y2="284.0" stroke="#f7525f" stroke-width="1"/>
<rect x="596.10" y="264.0" width="2.4" height="19.0" fill="#f7525f"/>
<line x1="600.08" y1="281.5" x2="600.08" y2="292.7" stroke="#f7525f" stroke-width="1"/>
<rect x="598.88" y="283.0" width="2.4" height="6.5" fill="#f7525f"/>
<line x1="602.85" y1="280.0" x2="602.85" y2="292.7" stroke="#22ab94" stroke-width="1"/>
<rect x="601.65" y="281.5" width="2.4" height="8.0" fill="#22ab94"/>
<line x1="605.62" y1="267.0" x2="605.62" y2="282.0" stroke="#22ab94" stroke-width="1"/>
<rect x="604.42" y="268.7" width="2.4" height="12.8" fill="#22ab94"/>
<line x1="608.40" y1="264.0" x2="608.40" y2="279.0" stroke="#f7525f" stroke-width="1"/>
<rect x="607.20" y="268.7" width="2.4" height="9.6" fill="#f7525f"/>
<line x1="611.17" y1="271.0" x2="611.17" y2="280.0" stroke="#22ab94" stroke-width="1"/>
<rect x="609.97" y="272.0" width="2.4" height="6.3" fill="#22ab94"/>
<line x1="613.94" y1="257.0" x2="613.94" y2="273.0" stroke="#22ab94" stroke-width="1"/>
<rect x="612.74" y="258.3" width="2.4" height="13.7" fill="#22ab94"/>
<line x1="616.72" y1="251.0" x2="616.72" y2="259.0" stroke="#22ab94" stroke-width="1"/>
<rect x="615.52" y="252.0" width="2.4" height="6.3" fill="#22ab94"/>
<line x1="619.49" y1="243.0" x2="619.49" y2="253.0" stroke="#22ab94" stroke-width="1"/>
<rect x="618.29" y="250.3" width="2.4" height="1.7" fill="#22ab94"/>
<line x1="622.27" y1="239.0" x2="622.27" y2="251.0" stroke="#22ab94" stroke-width="1"/>
<rect x="621.07" y="245.5" width="2.4" height="4.8" fill="#22ab94"/>
<line x1="625.04" y1="245.0" x2="625.04" y2="261.0" stroke="#f7525f" stroke-width="1"/>
<rect x="623.84" y="245.5" width="2.4" height="14.5" fill="#f7525f"/>
<line x1="627.81" y1="225.6" x2="627.81" y2="260.0" stroke="#22ab94" stroke-width="1"/>
<rect x="626.61" y="228.0" width="2.4" height="32.0" fill="#22ab94"/>
<line x1="630.59" y1="208.0" x2="630.59" y2="231.0" stroke="#22ab94" stroke-width="1"/>
<rect x="629.39" y="211.0" width="2.4" height="17.0" fill="#22ab94"/>
<line x1="633.36" y1="196.0" x2="633.36" y2="229.0" stroke="#f7525f" stroke-width="1"/>
<rect x="632.16" y="211.0" width="2.4" height="17.0" fill="#f7525f"/>
<line x1="636.13" y1="216.7" x2="636.13" y2="243.0" stroke="#f7525f" stroke-width="1"/>
<rect x="634.93" y="228.0" width="2.4" height="12.0" fill="#f7525f"/>
<line x1="638.91" y1="231.0" x2="638.91" y2="242.0" stroke="#22ab94" stroke-width="1"/>
<rect x="637.71" y="232.7" width="2.4" height="7.3" fill="#22ab94"/>
<line x1="641.68" y1="221.5" x2="641.68" y2="233.0" stroke="#22ab94" stroke-width="1"/>
<rect x="640.48" y="229.5" width="2.4" height="3.2" fill="#22ab94"/>
<line x1="644.45" y1="228.0" x2="644.45" y2="246.0" stroke="#f7525f" stroke-width="1"/>
<rect x="643.25" y="229.5" width="2.4" height="16.0" fill="#f7525f"/>
<line x1="647.23" y1="240.0" x2="647.23" y2="258.0" stroke="#f7525f" stroke-width="1"/>
<rect x="646.03" y="245.5" width="2.4" height="11.9" fill="#f7525f"/>
<line x1="650.00" y1="235.0" x2="650.00" y2="258.0" stroke="#22ab94" stroke-width="1"/>
<rect x="648.80" y="236.0" width="2.4" height="21.4" fill="#22ab94"/>
<line x1="652.78" y1="231.0" x2="652.78" y2="250.0" stroke="#f7525f" stroke-width="1"/>
<rect x="651.58" y="236.0" width="2.4" height="13.5" fill="#f7525f"/>
<line x1="655.55" y1="209.5" x2="655.55" y2="254.0" stroke="#22ab94" stroke-width="1"/>
<rect x="654.35" y="211.0" width="2.4" height="38.5" fill="#22ab94"/>
<line x1="658.32" y1="197.5" x2="658.32" y2="221.5" stroke="#22ab94" stroke-width="1"/>
<rect x="657.12" y="206.3" width="2.4" height="4.7" fill="#22ab94"/>
<line x1="661.10" y1="192.0" x2="661.10" y2="207.0" stroke="#22ab94" stroke-width="1"/>
<rect x="659.90" y="203.0" width="2.4" height="3.3" fill="#22ab94"/>
<line x1="663.87" y1="188.8" x2="663.87" y2="237.0" stroke="#f7525f" stroke-width="1"/>
<rect x="662.67" y="203.0" width="2.4" height="33.0" fill="#f7525f"/>
<line x1="666.64" y1="215.0" x2="666.64" y2="239.0" stroke="#22ab94" stroke-width="1"/>
<rect x="665.44" y="220.7" width="2.4" height="15.3" fill="#22ab94"/>
<line x1="669.42" y1="192.0" x2="669.42" y2="222.0" stroke="#22ab94" stroke-width="1"/>
<rect x="668.22" y="208.6" width="2.4" height="12.1" fill="#22ab94"/>
<line x1="672.19" y1="183.2" x2="672.19" y2="209.0" stroke="#22ab94" stroke-width="1"/>
<rect x="670.99" y="188.0" width="2.4" height="20.6" fill="#22ab94"/>
<line x1="674.96" y1="181.3" x2="674.96" y2="213.0" stroke="#f7525f" stroke-width="1"/>
<rect x="673.76" y="188.0" width="2.4" height="17.3" fill="#f7525f"/>
<line x1="677.74" y1="201.0" x2="677.74" y2="217.7" stroke="#f7525f" stroke-width="1"/>
<rect x="676.54" y="205.3" width="2.4" height="3.7" fill="#f7525f"/>
<line x1="680.51" y1="201.0" x2="680.51" y2="213.0" stroke="#f7525f" stroke-width="1"/>
<rect x="679.31" y="209.0" width="2.4" height="3.5" fill="#f7525f"/>
<line x1="683.28" y1="205.0" x2="683.28" y2="223.5" stroke="#f7525f" stroke-width="1"/>
<rect x="682.08" y="212.5" width="2.4" height="6.2" fill="#f7525f"/>
<line x1="686.06" y1="195.0" x2="686.06" y2="219.0" stroke="#22ab94" stroke-width="1"/>
<rect x="684.86" y="196.2" width="2.4" height="22.5" fill="#22ab94"/>
<line x1="688.83" y1="190.4" x2="688.83" y2="199.5" stroke="#22ab94" stroke-width="1"/>
<rect x="687.63" y="194.2" width="2.4" height="2.0" fill="#22ab94"/>
<line x1="691.61" y1="192.3" x2="691.61" y2="210.0" stroke="#f7525f" stroke-width="1"/>
<rect x="690.41" y="194.2" width="2.4" height="15.4" fill="#f7525f"/>
<line x1="694.38" y1="195.7" x2="694.38" y2="211.0" stroke="#22ab94" stroke-width="1"/>
<rect x="693.18" y="208.1" width="2.4" height="1.5" fill="#22ab94"/>
<line x1="697.15" y1="205.0" x2="697.15" y2="215.0" stroke="#f7525f" stroke-width="1"/>
<rect x="695.95" y="208.1" width="2.4" height="6.3" fill="#f7525f"/>
<line x1="699.93" y1="199.5" x2="699.93" y2="214.4" stroke="#22ab94" stroke-width="1"/>
<rect x="698.73" y="202.4" width="2.4" height="12.0" fill="#22ab94"/>
<line x1="702.70" y1="182.3" x2="702.70" y2="203.0" stroke="#22ab94" stroke-width="1"/>
<rect x="701.50" y="188.0" width="2.4" height="14.4" fill="#22ab94"/>
<line x1="705.47" y1="178.0" x2="705.47" y2="193.0" stroke="#22ab94" stroke-width="1"/>
<rect x="704.27" y="182.7" width="2.4" height="5.3" fill="#22ab94"/>
<line x1="708.25" y1="166.7" x2="708.25" y2="182.7" stroke="#22ab94" stroke-width="1"/>
<rect x="707.05" y="170.7" width="2.4" height="12.0" fill="#22ab94"/>
<line x1="711.02" y1="160.0" x2="711.02" y2="172.0" stroke="#22ab94" stroke-width="1"/>
<rect x="709.82" y="162.0" width="2.4" height="8.7" fill="#22ab94"/>
<line x1="713.79" y1="136.0" x2="713.79" y2="162.0" stroke="#22ab94" stroke-width="1"/>
<rect x="712.59" y="137.2" width="2.4" height="24.8" fill="#22ab94"/>
<line x1="716.57" y1="134.0" x2="716.57" y2="148.0" stroke="#22ab94" stroke-width="1"/>
<rect x="715.37" y="134.8" width="2.4" height="2.4" fill="#22ab94"/>
<line x1="719.34" y1="124.4" x2="719.34" y2="143.0" stroke="#f7525f" stroke-width="1"/>
<rect x="718.14" y="134.8" width="2.4" height="7.2" fill="#f7525f"/>
<line x1="722.12" y1="134.0" x2="722.12" y2="158.0" stroke="#f7525f" stroke-width="1"/>
<rect x="720.92" y="142.0" width="2.4" height="8.0" fill="#f7525f"/>
<line x1="724.89" y1="146.0" x2="724.89" y2="155.5" stroke="#22ab94" stroke-width="1"/>
<rect x="723.69" y="147.5" width="2.4" height="2.5" fill="#22ab94"/>
<line x1="727.66" y1="129.0" x2="727.66" y2="154.7" stroke="#22ab94" stroke-width="1"/>
<rect x="726.46" y="132.4" width="2.4" height="15.1" fill="#22ab94"/>
<line x1="730.44" y1="116.4" x2="730.44" y2="133.0" stroke="#22ab94" stroke-width="1"/>
<rect x="729.24" y="128.4" width="2.4" height="4.0" fill="#22ab94"/>
<line x1="733.21" y1="126.0" x2="733.21" y2="149.0" stroke="#f7525f" stroke-width="1"/>
<rect x="732.01" y="128.4" width="2.4" height="15.9" fill="#f7525f"/>
<line x1="735.98" y1="140.0" x2="735.98" y2="146.0" stroke="#22ab94" stroke-width="1"/>
<rect x="734.78" y="142.7" width="2.4" height="1.6" fill="#22ab94"/>
<line x1="738.76" y1="138.0" x2="738.76" y2="148.8" stroke="#f7525f" stroke-width="1"/>
<rect x="737.56" y="142.7" width="2.4" height="3.3" fill="#f7525f"/>
<line x1="741.53" y1="145.0" x2="741.53" y2="186.7" stroke="#f7525f" stroke-width="1"/>
<rect x="740.33" y="146.0" width="2.4" height="30.7" fill="#f7525f"/>
<line x1="744.30" y1="175.0" x2="744.30" y2="192.0" stroke="#f7525f" stroke-width="1"/>
<rect x="743.10" y="176.7" width="2.4" height="13.6" fill="#f7525f"/>
<line x1="747.08" y1="185.0" x2="747.08" y2="199.0" stroke="#f7525f" stroke-width="1"/>
<rect x="745.88" y="190.3" width="2.4" height="2.4" fill="#f7525f"/>
<line x1="749.85" y1="191.0" x2="749.85" y2="229.5" stroke="#f7525f" stroke-width="1"/>
<rect x="748.65" y="192.7" width="2.4" height="34.3" fill="#f7525f"/>
<line x1="752.62" y1="203.0" x2="752.62" y2="229.5" stroke="#22ab94" stroke-width="1"/>
<rect x="751.42" y="204.0" width="2.4" height="23.0" fill="#22ab94"/>
<line x1="755.40" y1="204.0" x2="755.40" y2="214.0" stroke="#f7525f" stroke-width="1"/>
<rect x="754.20" y="204.0" width="2.4" height="2.0" fill="#f7525f"/>
<line x1="758.17" y1="192.0" x2="758.17" y2="216.7" stroke="#22ab94" stroke-width="1"/>
<rect x="756.97" y="194.3" width="2.4" height="11.7" fill="#22ab94"/>
<line x1="760.95" y1="187.0" x2="760.95" y2="196.0" stroke="#22ab94" stroke-width="1"/>
<rect x="759.75" y="191.0" width="2.4" height="3.3" fill="#22ab94"/>
<line x1="763.72" y1="190.0" x2="763.72" y2="205.5" stroke="#f7525f" stroke-width="1"/>
<rect x="762.52" y="191.0" width="2.4" height="6.5" fill="#f7525f"/>
<line x1="766.49" y1="172.0" x2="766.49" y2="201.5" stroke="#22ab94" stroke-width="1"/>
<rect x="765.29" y="173.5" width="2.4" height="24.0" fill="#22ab94"/>
<line x1="769.27" y1="151.0" x2="769.27" y2="176.0" stroke="#22ab94" stroke-width="1"/>
<rect x="768.07" y="151.2" width="2.4" height="22.3" fill="#22ab94"/>
<line x1="772.04" y1="147.0" x2="772.04" y2="156.0" stroke="#f7525f" stroke-width="1"/>
<rect x="770.84" y="151.2" width="2.4" height="3.2" fill="#f7525f"/>
<line x1="774.81" y1="150.0" x2="774.81" y2="169.5" stroke="#f7525f" stroke-width="1"/>
<rect x="773.61" y="154.4" width="2.4" height="8.0" fill="#f7525f"/>
<line x1="777.59" y1="146.4" x2="777.59" y2="165.6" stroke="#22ab94" stroke-width="1"/>
<rect x="776.39" y="155.2" width="2.4" height="7.2" fill="#22ab94"/>
<line x1="780.36" y1="145.6" x2="780.36" y2="158.0" stroke="#22ab94" stroke-width="1"/>
<rect x="779.16" y="155.2" width="2.4" height="1.0" fill="#22ab94"/>
<line x1="783.13" y1="150.4" x2="783.13" y2="179.0" stroke="#f7525f" stroke-width="1"/>
<rect x="781.93" y="155.2" width="2.4" height="22.3" fill="#f7525f"/>
<line x1="785.91" y1="158.0" x2="785.91" y2="177.5" stroke="#22ab94" stroke-width="1"/>
<rect x="784.71" y="161.5" width="2.4" height="16.0" fill="#22ab94"/>
<line x1="788.68" y1="161.0" x2="788.68" y2="176.0" stroke="#f7525f" stroke-width="1"/>
<rect x="787.48" y="161.5" width="2.4" height="13.5" fill="#f7525f"/>
<line x1="791.46" y1="169.0" x2="791.46" y2="268.8" stroke="#f7525f" stroke-width="1"/>
<rect x="790.26" y="175.0" width="2.4" height="59.3" fill="#f7525f"/>
<line x1="794.23" y1="233.0" x2="794.23" y2="261.0" stroke="#f7525f" stroke-width="1"/>
<rect x="793.03" y="234.3" width="2.4" height="20.2" fill="#f7525f"/>
<line x1="797.00" y1="216.0" x2="797.00" y2="261.0" stroke="#22ab94" stroke-width="1"/>
<rect x="795.80" y="219.0" width="2.4" height="35.5" fill="#22ab94"/>
<line x1="799.78" y1="195.0" x2="799.78" y2="220.0" stroke="#22ab94" stroke-width="1"/>
<rect x="798.58" y="198.0" width="2.4" height="21.0" fill="#22ab94"/>
<line x1="802.55" y1="194.0" x2="802.55" y2="228.6" stroke="#f7525f" stroke-width="1"/>
<rect x="801.35" y="198.0" width="2.4" height="11.4" fill="#f7525f"/>
<line x1="805.32" y1="203.7" x2="805.32" y2="226.0" stroke="#f7525f" stroke-width="1"/>
<rect x="804.12" y="209.4" width="2.4" height="16.3" fill="#f7525f"/>
<line x1="808.10" y1="216.0" x2="808.10" y2="242.0" stroke="#f7525f" stroke-width="1"/>
<rect x="806.90" y="225.7" width="2.4" height="15.3" fill="#f7525f"/>
<line x1="810.87" y1="240.0" x2="810.87" y2="260.2" stroke="#f7525f" stroke-width="1"/>
<rect x="809.67" y="241.0" width="2.4" height="5.8" fill="#f7525f"/>
<line x1="813.64" y1="233.0" x2="813.64" y2="248.0" stroke="#22ab94" stroke-width="1"/>
<rect x="812.44" y="235.3" width="2.4" height="11.5" fill="#22ab94"/>
<line x1="816.42" y1="227.6" x2="816.42" y2="244.0" stroke="#22ab94" stroke-width="1"/>
<rect x="815.22" y="234.0" width="2.4" height="1.3" fill="#22ab94"/>
<line x1="819.19" y1="223.0" x2="819.19" y2="236.0" stroke="#22ab94" stroke-width="1"/>
<rect x="817.99" y="232.0" width="2.4" height="2.0" fill="#22ab94"/>
<line x1="821.96" y1="218.0" x2="821.96" y2="244.0" stroke="#f7525f" stroke-width="1"/>
<rect x="820.76" y="232.0" width="2.4" height="7.7" fill="#f7525f"/>
<line x1="824.74" y1="239.0" x2="824.74" y2="255.0" stroke="#f7525f" stroke-width="1"/>
<rect x="823.54" y="239.7" width="2.4" height="10.3" fill="#f7525f"/>
<line x1="827.51" y1="228.0" x2="827.51" y2="251.0" stroke="#22ab94" stroke-width="1"/>
<rect x="826.31" y="228.9" width="2.4" height="21.1" fill="#22ab94"/>
<line x1="830.29" y1="218.6" x2="830.29" y2="233.3" stroke="#22ab94" stroke-width="1"/>
<rect x="829.09" y="225.0" width="2.4" height="3.9" fill="#22ab94"/>
<line x1="833.06" y1="220.0" x2="833.06" y2="229.5" stroke="#22ab94" stroke-width="1"/>
<rect x="831.86" y="221.8" width="2.4" height="3.2" fill="#22ab94"/>
<line x1="835.83" y1="209.0" x2="835.83" y2="226.0" stroke="#22ab94" stroke-width="1"/>
<rect x="834.63" y="214.2" width="2.4" height="7.6" fill="#22ab94"/>
<line x1="838.61" y1="204.0" x2="838.61" y2="218.0" stroke="#f7525f" stroke-width="1"/>
<rect x="837.41" y="214.2" width="2.4" height="2.5" fill="#f7525f"/>
<line x1="841.38" y1="206.5" x2="841.38" y2="230.8" stroke="#f7525f" stroke-width="1"/>
<rect x="840.18" y="216.7" width="2.4" height="7.7" fill="#f7525f"/>
<line x1="844.15" y1="211.0" x2="844.15" y2="232.7" stroke="#f7525f" stroke-width="1"/>
<rect x="842.95" y="224.4" width="2.4" height="1.0" fill="#f7525f"/>
<line x1="846.93" y1="217.4" x2="846.93" y2="252.0" stroke="#f7525f" stroke-width="1"/>
<rect x="845.73" y="225.0" width="2.4" height="16.6" fill="#f7525f"/>
<line x1="849.70" y1="231.4" x2="849.70" y2="242.0" stroke="#22ab94" stroke-width="1"/>
<rect x="848.50" y="237.2" width="2.4" height="4.4" fill="#22ab94"/>
<line x1="852.47" y1="236.0" x2="852.47" y2="243.0" stroke="#f7525f" stroke-width="1"/>
<rect x="851.27" y="237.2" width="2.4" height="1.3" fill="#f7525f"/>
<line x1="855.25" y1="235.0" x2="855.25" y2="246.0" stroke="#22ab94" stroke-width="1"/>
<rect x="854.05" y="236.0" width="2.4" height="2.5" fill="#22ab94"/>
<line x1="858.02" y1="234.2" x2="858.02" y2="276.0" stroke="#f7525f" stroke-width="1"/>
<rect x="856.82" y="236.0" width="2.4" height="39.3" fill="#f7525f"/>
<line x1="860.80" y1="270.0" x2="860.80" y2="310.5" stroke="#f7525f" stroke-width="1"/>
<rect x="859.60" y="275.3" width="2.4" height="20.1" fill="#f7525f"/>
<line x1="863.57" y1="280.0" x2="863.57" y2="308.0" stroke="#22ab94" stroke-width="1"/>
<rect x="862.37" y="282.0" width="2.4" height="13.4" fill="#22ab94"/>
<line x1="866.34" y1="280.0" x2="866.34" y2="296.0" stroke="#f7525f" stroke-width="1"/>
<rect x="865.14" y="282.0" width="2.4" height="12.6" fill="#f7525f"/>
<line x1="869.12" y1="281.0" x2="869.12" y2="303.0" stroke="#22ab94" stroke-width="1"/>
<rect x="867.92" y="283.7" width="2.4" height="10.9" fill="#22ab94"/>
<line x1="871.89" y1="281.0" x2="871.89" y2="291.0" stroke="#f7525f" stroke-width="1"/>
<rect x="870.69" y="283.7" width="2.4" height="5.8" fill="#f7525f"/>
<line x1="874.66" y1="273.0" x2="874.66" y2="290.0" stroke="#22ab94" stroke-width="1"/>
<rect x="873.46" y="277.0" width="2.4" height="12.5" fill="#22ab94"/>
<line x1="877.44" y1="267.0" x2="877.44" y2="279.0" stroke="#22ab94" stroke-width="1"/>
<rect x="876.24" y="273.6" width="2.4" height="3.4" fill="#22ab94"/>
<line x1="880.21" y1="264.4" x2="880.21" y2="296.0" stroke="#f7525f" stroke-width="1"/>
<rect x="879.01" y="273.6" width="2.4" height="21.8" fill="#f7525f"/>
<line x1="882.98" y1="283.7" x2="882.98" y2="299.0" stroke="#f7525f" stroke-width="1"/>
<rect x="881.78" y="295.4" width="2.4" height="1.6" fill="#f7525f"/>
<line x1="885.76" y1="296.0" x2="885.76" y2="318.9" stroke="#f7525f" stroke-width="1"/>
<rect x="884.56" y="297.0" width="2.4" height="16.1" fill="#f7525f"/>
<line x1="888.53" y1="311.4" x2="888.53" y2="329.2" stroke="#f7525f" stroke-width="1"/>
<rect x="887.33" y="313.1" width="2.4" height="4.7" fill="#f7525f"/>
</g>
<g stroke="#0000ff" stroke-width="2.6" stroke-dasharray="11.6 13.4">
<line x1="7.4" y1="105.7" x2="966" y2="105.7"/>
<line x1="7.4" y1="376.2" x2="966" y2="376.2"/>
<line x1="575" y1="295" x2="966" y2="295"/>
</g>
<polyline fill="none" stroke="#f23645" stroke-width="2.7" stroke-linejoin="round" stroke-linecap="round" points="9.3,177.6 12.1,177.6 14.8,177.6 17.6,177.7 20.4,178.0 23.2,178.5 25.9,179.9 28.7,181.3 31.5,183.6 34.3,185.8 37.0,188.3 39.8,190.8 42.6,192.9 45.4,194.8 48.1,195.8 50.9,196.6 53.7,196.6 56.5,196.0 59.2,195.4 62.0,194.9 64.8,194.3 67.5,193.4 70.3,192.6 73.1,192.1 75.9,191.6 78.6,191.5 81.4,191.3 84.2,191.2 87.0,191.1 89.7,190.9 92.5,190.7 95.3,191.1 98.1,191.5 100.8,192.1 103.6,192.7 106.4,193.1 109.1,193.3 111.9,193.3 114.7,193.0 117.5,192.6 120.2,192.3 123.0,191.9 125.8,191.5 128.6,191.3 131.3,191.1 134.1,191.0 136.9,191.7 139.7,192.4 142.4,193.1 145.2,193.8 148.0,194.5 150.8,196.0 153.5,197.6 156.3,199.3 159.1,201.9 161.8,204.6 164.6,207.0 167.4,209.2 170.2,210.5 172.9,212.0 175.7,212.4 178.5,214.1 181.3,215.5 184.0,217.0 186.8,219.2 189.6,221.8 192.4,224.8 195.1,229.7 197.9,234.5 200.7,238.7 203.5,243.2 206.2,248.0 209.0,252.3 211.8,256.5 214.5,261.2 217.3,265.3 220.1,269.3 222.9,272.6 225.6,276.2 228.4,280.1 231.2,283.7 234.0,286.6 236.7,288.8 239.5,291.4 242.3,293.9 245.1,296.0 247.8,298.2 250.6,300.6 253.4,303.3 256.2,306.0 258.9,308.6 261.7,311.4 264.5,314.3 267.2,316.9 270.0,319.8 272.8,322.9 275.6,325.8 278.3,328.4 281.1,330.2 283.9,332.3 286.7,334.2 289.4,335.4 292.2,337.1 295.0,338.5 297.8,339.1 300.5,339.5 303.3,339.5 306.1,339.6 308.8,339.9 311.6,340.1 314.4,341.7 317.2,341.4 319.9,341.2 322.7,340.9 325.5,340.7 328.3,340.3 331.0,339.9 333.8,339.2 336.6,338.2 339.4,337.4 342.1,336.5 344.9,335.6 347.7,335.2 350.5,334.9 353.2,334.2 356.0,333.5 358.8,332.7 361.5,331.6 364.3,330.0 367.1,328.3 369.9,326.8 372.6,325.3 375.4,323.8 378.2,322.7 381.0,321.5 383.7,320.4 386.5,319.1 389.3,317.3 392.1,315.8 394.8,314.2 397.6,312.7 400.4,310.4 403.2,308.2 405.9,306.3 408.7,304.3 411.5,301.8 414.2,299.3 417.0,296.9 419.8,295.2 422.6,293.6 425.3,292.3 428.1,291.4 430.9,290.3 433.7,289.4 436.4,288.4 439.2,288.0 442.0,287.5 444.8,287.0 447.5,286.5 450.3,285.7 453.1,284.6 455.8,284.2 458.6,284.2 461.4,284.3 464.2,284.6 466.9,284.4 469.7,284.3 472.5,284.3 475.3,284.3 478.0,284.3 480.8,284.7 483.6,285.1 486.4,285.7 489.1,285.7 491.9,285.7 494.7,285.8 497.5,286.2 500.2,286.9 503.0,287.7 505.8,288.5 508.5,289.1 511.3,290.1 514.1,291.3 516.9,292.0 519.6,292.9 522.4,293.6 525.2,294.1 528.0,294.9 530.7,295.5 533.5,295.9 536.3,296.2 539.1,296.9 541.8,297.4 544.6,297.9 547.4,298.4 550.2,298.7 552.9,298.9 555.7,298.7 558.5,298.4 561.2,297.6 564.0,296.8 566.8,295.4 569.6,293.6 572.3,292.3 575.1,291.3 577.9,289.7 580.7,288.4 583.4,287.0 586.2,285.9 589.0,285.2 591.8,284.7 594.5,284.3 597.3,284.0 600.1,283.6 602.9,283.0 605.6,282.4 608.4,281.9 611.2,281.2 613.9,280.1 616.7,278.9 619.5,277.6 622.3,275.9 625.0,274.3 627.8,272.6 630.6,270.6 633.4,268.8 636.1,267.1 638.9,265.4 641.7,264.0 644.5,263.0 647.2,262.3 650.0,260.8 652.8,259.8 655.5,258.2 658.3,256.1 661.1,254.0 663.9,252.7 666.6,251.0 669.4,249.1 672.2,247.1 675.0,245.6 677.7,244.2 680.5,242.7 683.3,241.5 686.1,239.8 688.8,238.1 691.6,237.1 694.4,236.1 697.2,235.3 699.9,234.2 702.7,233.1 705.5,232.3 708.2,231.7 711.0,230.2 713.8,228.1 716.6,226.0 719.3,224.0 722.1,222.4 724.9,220.4 727.7,218.1 730.4,215.6 733.2,213.2 736.0,210.4 738.8,207.5 741.5,205.4 744.3,203.9 747.1,202.2 749.9,201.3 752.6,200.2 755.4,199.3 758.2,198.1 760.9,197.0 763.7,195.8 766.5,194.7 769.3,193.5 772.0,192.0 774.8,190.5 777.6,188.9 780.4,187.4 783.1,186.1 785.9,184.2 788.7,183.0 791.5,182.6 794.2,183.5 797.0,183.8 799.8,183.7 802.5,183.1 805.3,183.2 808.1,183.9 810.9,185.1 813.6,185.7 816.4,186.2 819.2,186.6 822.0,187.0 824.7,188.1 827.5,188.7 830.3,189.1 833.1,189.3 835.8,189.3 838.6,189.6 841.4,190.3 844.2,191.2 846.9,192.6 849.7,194.1 852.5,196.1 855.2,198.2 858.0,200.8 860.8,203.7 863.6,206.4 866.3,209.7 869.1,212.8 871.9,215.7 874.7,218.4 877.4,220.9 880.2,223.3 883.0,225.4 885.8,227.8 888.5,229.6"/>
<polyline fill="none" stroke="#2962ff" stroke-width="2.7" stroke-linejoin="round" stroke-linecap="round" points="9.3,214.6 12.1,213.1 14.8,210.1 17.6,208.0 20.4,206.4 23.2,203.8 25.9,204.4 28.7,205.7 31.5,209.2 34.3,211.8 37.0,213.9 39.8,215.6 42.6,218.4 45.4,220.1 48.1,218.5 50.9,216.2 53.7,212.6 56.5,202.1 59.2,194.2 62.0,188.8 64.8,182.6 67.5,175.7 70.3,170.1 73.1,165.0 75.9,160.0 78.6,158.2 81.4,157.5 84.2,158.2 87.0,158.7 89.7,157.4 92.5,157.2 95.3,160.5 98.1,165.0 100.8,166.9 103.6,170.2 106.4,174.9 109.1,180.5 111.9,185.0 114.7,187.9 117.5,190.3 120.2,192.5 123.0,195.0 125.8,197.4 128.6,200.0 131.3,201.3 134.1,203.7 136.9,206.7 139.7,211.2 142.4,216.7 145.2,221.8 148.0,225.1 150.8,229.6 153.5,232.8 156.3,236.6 159.1,244.5 161.8,251.2 164.6,258.8 167.4,265.2 170.2,269.2 172.9,273.6 175.7,271.5 178.5,275.9 181.3,279.5 184.0,282.4 186.8,285.6 189.6,289.2 192.4,292.9 195.1,298.0 197.9,304.0 200.7,308.2 203.5,311.8 206.2,315.6 209.0,317.0 211.8,318.3 214.5,321.1 217.3,323.2 220.1,325.6 222.9,326.0 225.6,327.7 228.4,328.9 231.2,329.7 234.0,330.2 236.7,329.3 239.5,327.7 242.3,327.7 245.1,327.4 247.8,328.8 250.6,330.9 253.4,332.5 256.2,334.3 258.9,334.8 261.7,337.5 264.5,340.0 267.2,341.2 270.0,342.8 272.8,346.7 275.6,349.9 278.3,353.1 281.1,353.7 283.9,355.5 286.7,355.3 289.4,353.3 292.2,352.8 295.0,351.6 297.8,351.2 300.5,349.9 303.3,348.0 306.1,346.5 308.8,344.2 311.6,342.4 314.4,341.2 317.2,337.8 319.9,334.4 322.7,331.0 325.5,328.3 328.3,326.2 331.0,324.5 333.8,323.0 336.6,321.9 339.4,320.5 342.1,318.8 344.9,317.7 347.7,317.0 350.5,316.8 353.2,316.1 356.0,315.4 358.8,314.8 361.5,311.3 364.3,306.7 367.1,301.7 369.9,298.0 372.6,294.4 375.4,289.5 378.2,286.4 381.0,284.6 383.7,283.5 386.5,282.8 389.3,280.8 392.1,280.0 394.8,279.2 397.6,277.5 400.4,274.8 403.2,273.1 405.9,271.4 408.7,270.1 411.5,269.1 414.2,267.7 417.0,267.4 419.8,268.0 422.6,270.3 425.3,272.2 428.1,273.9 430.9,275.7 433.7,277.5 436.4,279.4 439.2,282.8 442.0,285.2 444.8,287.0 447.5,288.2 450.3,287.8 453.1,286.7 455.8,286.6 458.6,287.8 461.4,289.6 464.2,292.0 466.9,292.6 469.7,293.6 472.5,295.0 475.3,296.5 478.0,297.8 480.8,299.8 483.6,302.7 486.4,306.0 489.1,306.8 491.9,307.3 494.7,308.1 497.5,309.6 500.2,310.4 503.0,309.4 505.8,308.1 508.5,306.8 511.3,307.1 514.1,306.4 516.9,305.2 519.6,305.7 522.4,305.9 525.2,305.4 528.0,305.5 530.7,305.0 533.5,303.7 536.3,301.2 539.1,299.2 541.8,297.9 544.6,296.0 547.4,294.6 550.2,293.1 552.9,290.2 555.7,287.0 558.5,283.9 561.2,281.3 564.0,278.0 566.8,272.6 569.6,265.9 572.3,262.8 575.1,261.1 577.9,258.8 580.7,257.2 583.4,255.0 586.2,254.0 589.0,253.5 591.8,253.4 594.5,254.4 597.3,257.1 600.1,260.2 602.9,262.2 605.6,262.8 608.4,264.3 611.2,265.1 613.9,264.4 616.7,263.2 619.5,262.0 622.3,260.4 625.0,260.4 627.8,257.3 630.6,252.9 633.4,250.5 636.1,249.5 638.9,247.9 641.7,246.2 644.5,246.1 647.2,247.2 650.0,246.1 652.8,246.4 655.5,243.1 658.3,239.6 661.1,236.1 663.9,236.1 666.6,234.6 669.4,232.1 672.2,227.9 675.0,225.8 677.7,224.2 680.5,223.1 683.3,222.6 686.1,220.1 688.8,217.7 691.6,216.9 694.4,216.1 697.2,215.9 699.9,214.6 702.7,212.1 705.5,209.3 708.2,205.6 711.0,201.5 713.8,195.3 716.6,189.6 719.3,185.0 722.1,181.7 724.9,178.4 727.7,174.1 730.4,169.7 733.2,167.3 736.0,164.9 738.8,163.1 741.5,164.4 744.3,166.9 747.1,169.4 749.9,174.8 752.6,177.6 755.4,180.3 758.2,181.7 760.9,182.5 763.7,184.0 766.5,183.0 769.3,179.9 772.0,177.5 774.8,176.1 777.6,174.1 780.4,172.3 783.1,172.8 785.9,171.7 788.7,172.0 791.5,178.0 794.2,185.2 797.0,188.5 799.8,189.4 802.5,191.3 805.3,194.6 808.1,199.0 810.9,203.5 813.6,206.6 816.4,209.2 819.2,211.3 822.0,214.0 824.7,217.5 827.5,218.6 830.3,219.2 833.1,219.4 835.8,218.9 838.6,218.7 841.4,219.3 844.2,219.8 846.9,221.9 849.7,223.3 852.5,224.8 855.2,225.8 858.0,230.6 860.8,236.7 863.6,241.0 866.3,246.1 869.1,249.7 871.9,253.5 874.7,255.7 877.4,257.4 880.2,261.1 883.0,264.5 885.8,269.1 888.5,273.8"/>
<polyline fill="none" stroke="#f9d24a" stroke-width="1.2" points="9.3,521.2 12.1,518.4 14.8,514.8 17.6,511.2 20.4,507.8 23.2,505.2 25.9,504.4 28.7,503.9 31.5,503.8 34.3,503.7 37.0,503.9 39.8,504.0 42.6,504.1 45.4,503.9 48.1,503.1 50.9,502.6 53.7,502.1 56.5,500.0 59.2,498.3 62.0,497.7 64.8,495.1 67.5,491.9 70.3,488.1 73.1,484.6 75.9,481.1 78.6,479.0 81.4,476.8 84.2,475.7 87.0,476.1 89.7,476.3 92.5,477.4 95.3,481.8 98.1,485.9 100.8,488.3 103.6,491.6 106.4,495.7 109.1,499.7 111.9,503.6 114.7,507.1 117.5,509.1 120.2,510.8 123.0,512.0 125.8,513.4 128.6,515.7 131.3,516.9 134.1,517.3 136.9,517.6 139.7,519.5 142.4,521.3 145.2,522.6 148.0,522.7 150.8,523.5 153.5,524.4 156.3,525.6 159.1,528.2 161.8,530.3 164.6,532.7 167.4,534.6 170.2,536.0 172.9,537.1 175.7,535.1 178.5,534.3 181.3,532.8 184.0,531.2 186.8,530.7 189.6,529.8 192.4,529.5 195.1,529.5 197.9,528.5 200.7,527.1 203.5,525.3 206.2,524.0 209.0,522.8 211.8,521.3 214.5,523.2 217.3,523.1 220.1,523.2 222.9,522.6 225.6,522.3 228.4,521.6 231.2,520.7 234.0,519.1 236.7,516.5 239.5,514.0 242.3,512.5 245.1,510.5 247.8,510.5 250.6,510.8 253.4,510.3 256.2,510.2 258.9,509.2 261.7,510.2 264.5,510.7 267.2,510.7 270.0,511.0 272.8,512.6 275.6,514.7 278.3,517.2 281.1,517.6 283.9,518.6 286.7,517.9 289.4,515.9 292.2,514.8 295.0,513.1 297.8,512.5 300.5,510.4 303.3,507.9 306.1,506.3 308.8,504.0 311.6,500.8 314.4,498.1 317.2,494.2 319.9,491.6 322.7,488.3 325.5,486.3 328.3,485.5 331.0,484.1 333.8,483.2 336.6,482.1 339.4,481.2 342.1,480.4 344.9,479.8 347.7,480.0 350.5,480.5 353.2,480.3 356.0,481.1 358.8,482.1 361.5,481.2 364.3,479.4 367.1,477.1 369.9,475.4 372.6,473.6 375.4,470.9 378.2,469.8 381.0,469.9 383.7,469.9 386.5,469.9 389.3,468.6 392.1,468.6 394.8,468.5 397.6,467.9 400.4,468.7 403.2,470.8 405.9,473.0 408.7,474.6 411.5,476.5 414.2,478.7 417.0,480.5 419.8,482.1 422.6,484.6 425.3,486.6 428.1,489.4 430.9,491.5 433.7,493.9 436.4,497.0 439.2,501.7 442.0,505.1 444.8,508.2 447.5,510.7 450.3,511.7 453.1,512.5 455.8,513.2 458.6,514.0 461.4,514.1 464.2,514.8 466.9,514.3 469.7,513.8 472.5,513.5 475.3,513.3 478.0,511.8 480.8,511.6 483.6,512.4 486.4,513.9 489.1,514.9 491.9,516.2 494.7,517.1 497.5,517.5 500.2,516.9 503.0,514.7 505.8,513.5 508.5,512.0 511.3,511.2 514.1,509.6 516.9,507.8 519.6,506.5 522.4,504.4 525.2,501.5 528.0,500.9 530.7,500.1 533.5,498.4 536.3,495.5 539.1,493.3 541.8,492.7 544.6,491.9 547.4,491.6 550.2,489.9 552.9,488.0 555.7,486.3 558.5,483.2 561.2,480.6 564.0,477.9 566.8,473.9 569.6,469.7 572.3,468.5 575.1,468.9 577.9,468.7 580.7,468.4 583.4,468.3 586.2,468.4 589.0,469.0 591.8,470.8 594.5,473.6 597.3,477.4 600.1,481.4 602.9,485.4 605.6,489.5 608.4,494.7 611.2,497.0 613.9,497.8 616.7,498.7 619.5,499.1 622.3,499.6 625.0,500.4 627.8,499.4 630.6,497.5 633.4,495.9 636.1,494.0 638.9,491.5 641.7,489.4 644.5,488.9 647.2,488.5 650.0,487.6 652.8,488.0 655.5,487.3 658.3,486.5 661.1,485.9 663.9,485.9 666.6,486.8 669.4,488.0 672.2,487.5 675.0,487.1 677.7,487.2 680.5,487.6 683.3,487.4 686.1,485.8 688.8,485.1 691.6,484.5 694.4,485.4 697.2,486.7 699.9,487.6 702.7,486.3 705.5,485.4 708.2,484.5 711.0,483.9 713.8,481.8 716.6,479.5 719.3,477.5 722.1,475.8 724.9,474.8 727.7,473.3 730.4,471.0 733.2,469.8 736.0,468.3 738.8,467.5 741.5,469.1 744.3,471.6 747.1,474.6 749.9,479.2 752.6,483.4 755.4,487.7 758.2,490.8 760.9,493.4 763.7,496.2 766.5,498.5 769.3,500.1 772.0,500.6 774.8,501.7 777.6,502.3 780.4,501.0 783.1,500.2 785.9,498.7 788.7,496.5 791.5,497.5 794.2,499.0 797.0,499.6 799.8,499.6 802.5,499.7 805.3,501.3 808.1,504.3 810.9,507.2 813.6,509.2 816.4,511.5 819.2,513.7 822.0,515.0 824.7,517.3 827.5,518.0 830.3,516.4 833.1,514.2 835.8,513.1 838.6,512.9 841.4,512.7 844.2,512.1 846.9,511.8 849.7,511.1 852.5,511.0 855.2,510.7 858.0,512.2 860.8,513.9 863.6,514.5 866.3,516.5 869.1,518.1 871.9,519.9 874.7,521.4 877.4,522.5 880.2,524.1 883.0,525.8 885.8,527.2 888.5,529.0"/>
<polyline fill="none" stroke="#7e57c2" stroke-width="2.2" stroke-linejoin="round" points="9.3,510.8 12.1,493.0 14.8,481.8 17.6,487.4 20.4,490.6 23.2,482.2 25.9,504.5 28.7,509.8 31.5,522.3 34.3,517.8 37.0,516.2 39.8,514.6 42.6,522.2 45.4,514.6 48.1,492.4 50.9,486.6 53.7,478.5 56.5,451.5 59.2,462.6 62.0,473.6 64.8,468.7 67.5,464.4 70.3,469.2 73.1,469.0 75.9,467.3 78.6,485.4 81.4,491.3 84.2,499.0 87.0,498.5 89.7,488.6 92.5,495.0 95.3,513.1 98.1,519.8 100.8,506.9 103.6,514.4 106.4,521.6 109.1,526.5 111.9,523.4 114.7,515.5 117.5,514.2 120.2,514.1 123.0,517.1 125.8,517.9 128.6,520.0 131.3,511.8 134.1,518.8 136.9,524.0 139.7,533.2 142.4,539.5 145.2,539.7 148.0,527.9 150.8,535.1 153.5,527.9 156.3,531.9 159.1,549.9 161.8,546.5 164.6,551.3 167.4,547.1 170.2,530.9 172.9,534.6 175.7,495.7 178.5,521.5 181.3,519.1 184.0,517.9 186.8,519.8 189.6,522.7 192.4,524.2 195.1,531.3 197.9,536.1 200.7,527.4 203.5,526.4 206.2,528.7 209.0,513.7 211.8,514.2 214.5,522.4 217.3,519.0 220.1,521.7 222.9,508.3 225.6,515.9 228.4,513.6 231.2,511.1 234.0,509.1 236.7,498.9 239.5,493.6 242.3,504.6 245.1,501.4 247.8,513.3 250.6,517.9 253.4,515.6 256.2,517.9 258.9,507.7 261.7,522.5 264.5,522.9 267.2,513.0 270.0,516.4 272.8,530.7 275.6,528.2 278.3,529.4 281.1,509.0 283.9,516.5 286.7,502.7 289.4,490.4 292.2,499.7 295.0,494.7 297.8,499.5 300.5,492.7 303.3,488.3 306.1,490.3 308.8,483.4 311.6,487.0 314.4,489.6 317.2,474.8 319.9,472.4 322.7,470.7 325.5,475.1 328.3,478.2 331.0,480.4 333.8,482.2 336.6,484.1 339.4,480.3 342.1,476.5 344.9,483.2 347.7,486.1 350.5,493.0 353.2,487.2 356.0,486.3 358.8,485.5 361.5,458.7 364.3,449.9 367.1,445.6 369.9,457.8 372.6,456.1 375.4,447.0 378.2,464.6 381.0,477.5 383.7,482.8 386.5,486.0 389.3,475.1 392.1,487.0 394.8,485.4 397.6,477.8 400.4,469.8 403.2,478.6 405.9,476.9 408.7,479.9 411.5,482.3 414.2,478.3 417.0,489.5 419.8,500.4 422.6,517.1 425.3,514.2 428.1,514.2 430.9,516.6 433.7,518.9 436.4,520.8 439.2,535.9 442.0,526.0 444.8,520.5 447.5,515.2 450.3,496.1 453.1,489.2 455.8,499.1 458.6,512.3 461.4,518.2 464.2,524.7 466.9,506.3 469.7,510.2 472.5,514.9 475.3,517.5 478.0,515.3 480.8,523.4 483.6,531.5 486.4,536.7 489.1,509.6 491.9,507.6 494.7,511.0 497.5,517.6 500.2,510.7 503.0,493.5 505.8,490.3 508.5,489.1 511.3,503.7 514.1,494.8 516.9,489.3 519.6,505.7 522.4,501.8 525.2,496.3 528.0,501.0 530.7,496.2 533.5,487.3 536.3,476.7 539.1,480.3 541.8,485.2 544.6,479.4 547.4,483.9 550.2,481.1 552.9,468.0 555.7,464.6 558.5,463.0 561.2,465.4 564.0,458.5 566.8,444.5 569.6,437.4 572.3,471.4 575.1,482.0 577.9,477.3 580.7,481.3 583.4,477.1 586.2,486.3 589.0,489.2 591.8,493.5 594.5,503.2 597.3,517.1 600.1,521.3 602.9,513.7 605.6,502.6 608.4,509.7 611.2,504.3 613.9,493.3 616.7,488.7 619.5,487.4 622.3,483.8 625.0,497.5 627.8,475.6 630.6,466.9 633.4,481.2 636.1,490.3 638.9,485.9 641.7,483.9 644.5,496.3 647.2,504.5 650.0,490.4 652.8,499.6 655.5,478.8 658.3,476.7 661.1,475.2 663.9,496.9 666.6,489.0 669.4,483.1 672.2,474.1 675.0,485.1 677.7,487.4 680.5,489.6 683.3,493.6 686.1,481.7 688.8,480.7 691.6,491.4 694.4,490.5 697.2,495.0 699.9,487.5 702.7,479.4 705.5,476.6 708.2,470.4 711.0,466.2 713.8,455.7 716.6,454.8 719.3,461.7 722.1,469.2 724.9,467.9 727.7,460.5 730.4,458.6 733.2,474.3 736.0,473.4 738.8,476.6 741.5,502.1 744.3,511.0 747.1,512.5 749.9,530.9 752.6,513.7 755.4,514.7 758.2,506.5 760.9,504.2 763.7,508.4 766.5,492.3 769.3,480.2 772.0,482.5 774.8,488.4 777.6,484.2 780.4,484.2 783.1,500.8 785.9,490.6 788.7,499.7 791.5,528.6 794.2,535.6 797.0,514.7 799.8,504.3 802.5,509.1 805.3,515.7 808.1,521.4 810.9,523.6 813.6,516.8 816.4,516.1 819.2,514.8 822.0,518.5 824.7,523.3 827.5,509.1 830.3,506.7 833.1,504.6 835.8,499.6 838.6,501.3 841.4,506.4 844.2,506.8 846.9,517.6 849.7,513.8 852.5,514.7 855.2,512.4 858.0,535.2 860.8,543.6 863.6,531.7 866.3,537.1 869.1,527.9 871.9,530.6 874.7,520.2 877.4,517.4 880.2,528.9 883.0,529.7 885.8,537.2 888.5,539.2"/>
</g>
<!-- frame -->
<rect x="7.9" y="20.8" width="1008.6" height="559.6" fill="none" stroke="#eff0f3" stroke-width="1.2" rx="2"/>
<line x1="9" y1="424" x2="1016" y2="424" stroke="#eeeff3" stroke-width="2"/>
<line x1="9" y1="559.4" x2="1016" y2="559.4" stroke="#eeeff3" stroke-width="2"/>
<line x1="966.9" y1="21" x2="966.9" y2="580" stroke="#eeeff3" stroke-width="2"/>

<!-- legends -->
<g font-size="9.9" lengthAdjust="spacingAndGlyphs">
<text x="13.75" y="34.7" fill="#131722" textLength="121" lengthAdjust="spacingAndGlyphs" stroke="#131722" stroke-width="0.25">SOL / TetherUS · 1D · Binance</text>
<text x="141.2" y="34.7" fill="#131722" textLength="32.6" lengthAdjust="spacingAndGlyphs" stroke="#131722" stroke-width="0.25">O<tspan fill="#f7525f" stroke="#f7525f" stroke-width="0.25">144.74</tspan></text>
<text x="179.4" y="34.7" fill="#131722" textLength="32.6" lengthAdjust="spacingAndGlyphs" stroke="#131722" stroke-width="0.25">H<tspan fill="#f7525f" stroke="#f7525f" stroke-width="0.25">145.68</tspan></text>
<text x="218.3" y="34.7" fill="#131722" textLength="30.8" lengthAdjust="spacingAndGlyphs" stroke="#131722" stroke-width="0.25">L<tspan fill="#f7525f" stroke="#f7525f" stroke-width="0.25">135.76</tspan></text>
<text x="255.4" y="34.7" fill="#131722" textLength="31.9" lengthAdjust="spacingAndGlyphs" stroke="#131722" stroke-width="0.25">C<tspan fill="#f7525f" stroke="#f7525f" stroke-width="0.25">142.13</tspan></text>
<text x="294.5" y="34.7" fill="#f7525f" textLength="58.5" lengthAdjust="spacingAndGlyphs" stroke="#f7525f" stroke-width="0.25">−2.60 (−1.80%)</text>
<text x="13.75" y="47.7" fill="#131722" textLength="62" lengthAdjust="spacingAndGlyphs" stroke="#131722" stroke-width="0.25">EMA (20, close)</text>
<text x="82" y="47.7" fill="#2962ff" textLength="26.6" lengthAdjust="spacingAndGlyphs" stroke="#2962ff" stroke-width="0.25">166.70</text>
<text x="13.75" y="60.5" fill="#131722" textLength="61.3" lengthAdjust="spacingAndGlyphs" stroke="#131722" stroke-width="0.25">SMA (50, close)</text>
<text x="81.6" y="60.5" fill="#f23645" textLength="26.2" lengthAdjust="spacingAndGlyphs" stroke="#f23645" stroke-width="0.25">191.03</text>
<text x="13.75" y="439" fill="#131722" textLength="57.4" lengthAdjust="spacingAndGlyphs" stroke="#131722" stroke-width="0.25">RSI (14, close)</text>
<text x="76.9" y="439" fill="#7e57c2" textLength="22.3" lengthAdjust="spacingAndGlyphs" stroke="#7e57c2" stroke-width="0.25">31.30</text>
<text x="105" y="439" fill="#f7c531" textLength="22.3" lengthAdjust="spacingAndGlyphs" stroke="#f7c531" stroke-width="0.25">36.12</text>
</g>

<!-- price axis -->
<rect x="969.1" y="23.4" width="44.5" height="19.9" rx="4" fill="#fff" stroke="#eef0f5"/>
<g font-size="9.9" fill="#131722" stroke="#131722" stroke-width="0.25">
<text x="976.7" y="36.9" textLength="20.6" lengthAdjust="spacingAndGlyphs" >USDT</text>
<text x="974" y="72.2" textLength="26" lengthAdjust="spacingAndGlyphs" >280.00</text>
<text x="974" y="144.5" textLength="26" lengthAdjust="spacingAndGlyphs" >240.00</text>
<text x="974" y="180.6" textLength="26" lengthAdjust="spacingAndGlyphs" >220.00</text>
<text x="974" y="216.7" textLength="26" lengthAdjust="spacingAndGlyphs" >200.00</text>
<text x="974" y="252.8" textLength="26" lengthAdjust="spacingAndGlyphs" >180.00</text>
<text x="974" y="288.9" textLength="26" lengthAdjust="spacingAndGlyphs" >160.00</text>
<text x="974" y="361.2" textLength="26" lengthAdjust="spacingAndGlyphs" >120.00</text>
<text x="974" y="397.3" textLength="26" lengthAdjust="spacingAndGlyphs" >100.00</text>
<text x="974" y="439.5" textLength="21.8" lengthAdjust="spacingAndGlyphs" >80.00</text>
<text x="974" y="481.4" textLength="21.8" lengthAdjust="spacingAndGlyphs" >60.00</text>
<text x="974" y="523.4" textLength="21.8" lengthAdjust="spacingAndGlyphs" >40.00</text>
</g>
<!-- tags -->
<g font-size="9.9" fill="#fff" stroke="#fff" stroke-width="0.25">
<rect x="966.5" y="99.2" width="37.7" height="12.8" rx="2" fill="#0000ff" stroke="none"/>
<text x="973.8" y="109.0" textLength="26.2" lengthAdjust="spacingAndGlyphs" >260.00</text>
<rect x="928.5" y="223.8" width="75.7" height="12.6" rx="2" fill="#f23645" stroke="none"/>
<line x1="966.5" y1="223.8" x2="966.5" y2="236.4" stroke="#fff" stroke-opacity="0.35"/>
<text x="931.9" y="233.5" textLength="31.6" lengthAdjust="spacingAndGlyphs" >SMA:MA</text>
<text x="974" y="233.5" textLength="26.1" lengthAdjust="spacingAndGlyphs" >191.03</text>
<rect x="943.1" y="267.6" width="61.1" height="12.8" rx="2" fill="#3179f5" stroke="none"/>
<line x1="966.5" y1="267.6" x2="966.5" y2="280.4" stroke="#fff" stroke-opacity="0.35"/>
<text x="946.8" y="277.4" textLength="16.3" lengthAdjust="spacingAndGlyphs" >EMA</text>
<text x="974" y="277.4" textLength="26.1" lengthAdjust="spacingAndGlyphs" >166.70</text>
<rect x="966.5" y="289.0" width="37.7" height="12.8" rx="2" fill="#0000ff" stroke="none"/>
<text x="974" y="298.9" textLength="26.1" lengthAdjust="spacingAndGlyphs" >155.00</text>
<rect x="923.9" y="312.2" width="42.1" height="12.5" rx="2" fill="#ef5350" stroke="none"/>
<text x="927.2" y="322.2" textLength="35.7" lengthAdjust="spacingAndGlyphs" >SOLUSDT</text>
<rect x="966.5" y="312.2" width="45.8" height="34.1" rx="2" fill="#ef5350" stroke="none"/>
<text x="973.2" y="321.8" textLength="27" lengthAdjust="spacingAndGlyphs" >142.13</text>
<text x="973.2" y="332.4" textLength="32.3" lengthAdjust="spacingAndGlyphs" >−24.92%</text>
<text x="973.2" y="342.9" textLength="35.2" lengthAdjust="spacingAndGlyphs" >07:40:28</text>
<rect x="966.5" y="370.0" width="37.6" height="12.6" rx="2" fill="#0000ff" stroke="none"/>
<text x="973.2" y="380.0" textLength="27.3" lengthAdjust="spacingAndGlyphs" >110.00</text>
<rect x="906.5" y="519.2" width="93.5" height="12.4" rx="2" fill="#fcd535" stroke="none"/>
<line x1="966.5" y1="519.2" x2="966.5" y2="531.6" stroke="#fff" stroke-opacity="0.35"/>
<text x="909.3" y="529.0" textLength="54.4" lengthAdjust="spacingAndGlyphs" fill="#131722" stroke="#131722" stroke-width="0.25">RSI-based <tspan font-style="italic">MA</tspan></text>
<text x="973.5" y="529.0" textLength="22.2" lengthAdjust="spacingAndGlyphs" fill="#131722" stroke="#131722" stroke-width="0.25">36.12</text>
<rect x="947.4" y="532.0" width="52.6" height="12.6" rx="2" fill="#7e57c2" stroke="none"/>
<line x1="966.5" y1="532" x2="966.5" y2="544.6" stroke="#fff" stroke-opacity="0.35"/>
<text x="950.7" y="541.8" textLength="13" lengthAdjust="spacingAndGlyphs" >RSI</text>
<text x="973.5" y="541.8" textLength="22.2" lengthAdjust="spacingAndGlyphs" >31.30</text>
</g>
<!-- lightning icon -->
<g>
<circle cx="888.7" cy="413.7" r="7.4" fill="none" stroke="#8447bd" stroke-width="1.5"/>
<path d="M891.4 410 L885.7 414.9 L888.7 414.6 L886.5 418.2 L892 413 L889.1 413.3 Z" fill="#8a3fb0" stroke="#8a3fb0" stroke-width="0.4"/>
<circle cx="894" cy="408.9" r="2.4" fill="#f23645" stroke="#fff" stroke-width="1.2"/>
</g>
<!-- time axis -->
<g font-size="9.9" fill="#131722" stroke="#131722" stroke-width="0.25">
<g clip-path="url(#cpt)"><text x="-1.5" y="573" textLength="20.5" lengthAdjust="spacingAndGlyphs" font-weight="bold">2025</text></g>
<text x="86.9" y="573" textLength="15.1" lengthAdjust="spacingAndGlyphs" >Feb</text>
<text x="165" y="573" textLength="14.3" lengthAdjust="spacingAndGlyphs" >Mar</text>
<text x="251.5" y="573" textLength="13.7" lengthAdjust="spacingAndGlyphs" >Apr</text>
<text x="333.8" y="573" textLength="15.6" lengthAdjust="spacingAndGlyphs" >May</text>
<text x="420.5" y="573" textLength="14.2" lengthAdjust="spacingAndGlyphs" >Jun</text>
<text x="504.7" y="573" textLength="12.8" lengthAdjust="spacingAndGlyphs" >Jul</text>
<text x="589.3" y="573" textLength="15.6" lengthAdjust="spacingAndGlyphs" >Aug</text>
<text x="675.7" y="573" textLength="14.5" lengthAdjust="spacingAndGlyphs" >Sep</text>
<text x="759.2" y="573" textLength="14.5" lengthAdjust="spacingAndGlyphs" >Oct</text>
<text x="844.6" y="573" textLength="15.5" lengthAdjust="spacingAndGlyphs" >Nov</text>
<text x="927.7" y="573" textLength="15.2" lengthAdjust="spacingAndGlyphs" >Dec</text>
</g>

<!-- logo -->
<g fill="#131722">
<path d="M9.2 597.1 H17.9 V608.4 H13.9 V601.6 H9.2 Z"/>
<circle cx="22" cy="599.4" r="1.95"/>
<path d="M26 597.1 H31.7 L27.8 608.4 H22.2 Z"/>
<text x="36.9" y="608.2" font-size="14.6" font-weight="bold" textLength="91.6" lengthAdjust="spacingAndGlyphs">TradingView</text>
</g>
</svg>
</body></html>
